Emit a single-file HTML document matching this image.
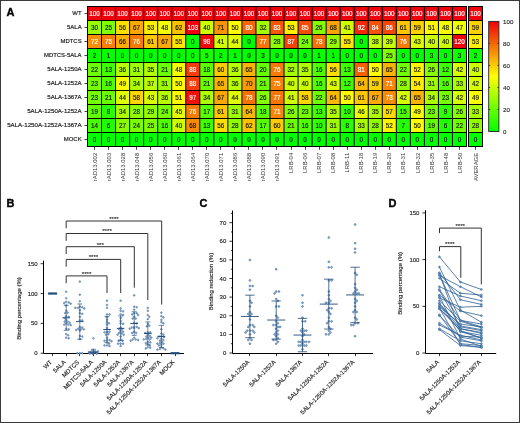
<!DOCTYPE html>
<html><head><meta charset="utf-8"><style>html,body{margin:0;padding:0;background:#fff;}svg{display:block;will-change:transform;}</style></head><body>
<svg width="520" height="423" viewBox="0 0 520 423">
<rect x="0" y="0" width="520" height="423" fill="#fff"/>
<rect x="87.50" y="6.50" width="14.04" height="14.00" fill="rgb(240,0,10)"/>
<rect x="101.54" y="6.50" width="14.04" height="14.00" fill="rgb(240,0,10)"/>
<rect x="115.57" y="6.50" width="14.04" height="14.00" fill="rgb(240,0,10)"/>
<rect x="129.61" y="6.50" width="14.04" height="14.00" fill="rgb(240,0,10)"/>
<rect x="143.65" y="6.50" width="14.04" height="14.00" fill="rgb(240,0,10)"/>
<rect x="157.69" y="6.50" width="14.04" height="14.00" fill="rgb(240,0,10)"/>
<rect x="171.72" y="6.50" width="14.04" height="14.00" fill="rgb(240,0,10)"/>
<rect x="185.76" y="6.50" width="14.04" height="14.00" fill="rgb(240,0,10)"/>
<rect x="199.80" y="6.50" width="14.04" height="14.00" fill="rgb(240,0,10)"/>
<rect x="213.83" y="6.50" width="14.04" height="14.00" fill="rgb(240,0,10)"/>
<rect x="227.87" y="6.50" width="14.04" height="14.00" fill="rgb(240,0,10)"/>
<rect x="241.91" y="6.50" width="14.04" height="14.00" fill="rgb(240,0,10)"/>
<rect x="255.94" y="6.50" width="14.04" height="14.00" fill="rgb(240,0,10)"/>
<rect x="269.98" y="6.50" width="14.04" height="14.00" fill="rgb(240,0,10)"/>
<rect x="284.02" y="6.50" width="14.04" height="14.00" fill="rgb(240,0,10)"/>
<rect x="298.06" y="6.50" width="14.04" height="14.00" fill="rgb(240,0,10)"/>
<rect x="312.09" y="6.50" width="14.04" height="14.00" fill="rgb(240,0,10)"/>
<rect x="326.13" y="6.50" width="14.04" height="14.00" fill="rgb(240,0,10)"/>
<rect x="340.17" y="6.50" width="14.04" height="14.00" fill="rgb(240,0,10)"/>
<rect x="354.20" y="6.50" width="14.04" height="14.00" fill="rgb(240,0,10)"/>
<rect x="368.24" y="6.50" width="14.04" height="14.00" fill="rgb(240,0,10)"/>
<rect x="382.28" y="6.50" width="14.04" height="14.00" fill="rgb(240,0,10)"/>
<rect x="396.31" y="6.50" width="14.04" height="14.00" fill="rgb(240,0,10)"/>
<rect x="410.35" y="6.50" width="14.04" height="14.00" fill="rgb(240,0,10)"/>
<rect x="424.39" y="6.50" width="14.04" height="14.00" fill="rgb(240,0,10)"/>
<rect x="438.43" y="6.50" width="14.04" height="14.00" fill="rgb(240,0,10)"/>
<rect x="452.46" y="6.50" width="14.04" height="14.00" fill="rgb(240,0,10)"/>
<rect x="468.50" y="6.50" width="14.00" height="14.00" fill="rgb(240,0,10)"/>
<rect x="87.50" y="20.50" width="14.04" height="14.00" fill="rgb(153,255,0)"/>
<rect x="101.54" y="20.50" width="14.04" height="14.00" fill="rgb(128,255,0)"/>
<rect x="115.57" y="20.50" width="14.04" height="14.00" fill="rgb(253,224,1)"/>
<rect x="129.61" y="20.50" width="14.04" height="14.00" fill="rgb(250,168,3)"/>
<rect x="143.65" y="20.50" width="14.04" height="14.00" fill="rgb(254,240,1)"/>
<rect x="157.69" y="20.50" width="14.04" height="14.00" fill="rgb(245,255,0)"/>
<rect x="171.72" y="20.50" width="14.04" height="14.00" fill="rgb(251,194,2)"/>
<rect x="185.76" y="20.50" width="14.04" height="14.00" fill="rgb(240,0,10)"/>
<rect x="199.80" y="20.50" width="14.04" height="14.00" fill="rgb(204,255,0)"/>
<rect x="213.83" y="20.50" width="14.04" height="14.00" fill="rgb(249,148,4)"/>
<rect x="227.87" y="20.50" width="14.04" height="14.00" fill="rgb(255,255,0)"/>
<rect x="241.91" y="20.50" width="14.04" height="14.00" fill="rgb(246,102,6)"/>
<rect x="255.94" y="20.50" width="14.04" height="14.00" fill="rgb(163,255,0)"/>
<rect x="269.98" y="20.50" width="14.04" height="14.00" fill="rgb(245,87,7)"/>
<rect x="284.02" y="20.50" width="14.04" height="14.00" fill="rgb(254,240,1)"/>
<rect x="298.06" y="20.50" width="14.04" height="14.00" fill="rgb(244,76,7)"/>
<rect x="312.09" y="20.50" width="14.04" height="14.00" fill="rgb(133,255,0)"/>
<rect x="326.13" y="20.50" width="14.04" height="14.00" fill="rgb(250,163,4)"/>
<rect x="340.17" y="20.50" width="14.04" height="14.00" fill="rgb(209,255,0)"/>
<rect x="354.20" y="20.50" width="14.04" height="14.00" fill="rgb(242,41,8)"/>
<rect x="368.24" y="20.50" width="14.04" height="14.00" fill="rgb(245,82,7)"/>
<rect x="382.28" y="20.50" width="14.04" height="14.00" fill="rgb(244,71,7)"/>
<rect x="396.31" y="20.50" width="14.04" height="14.00" fill="rgb(252,199,2)"/>
<rect x="410.35" y="20.50" width="14.04" height="14.00" fill="rgb(252,209,2)"/>
<rect x="424.39" y="20.50" width="14.04" height="14.00" fill="rgb(255,250,0)"/>
<rect x="438.43" y="20.50" width="14.04" height="14.00" fill="rgb(245,255,0)"/>
<rect x="452.46" y="20.50" width="14.04" height="14.00" fill="rgb(240,255,0)"/>
<rect x="468.50" y="20.50" width="14.00" height="14.00" fill="rgb(252,209,2)"/>
<rect x="87.50" y="34.50" width="14.04" height="14.00" fill="rgb(248,143,4)"/>
<rect x="101.54" y="34.50" width="14.04" height="14.00" fill="rgb(248,128,5)"/>
<rect x="115.57" y="34.50" width="14.04" height="14.00" fill="rgb(250,173,3)"/>
<rect x="129.61" y="34.50" width="14.04" height="14.00" fill="rgb(247,122,5)"/>
<rect x="143.65" y="34.50" width="14.04" height="14.00" fill="rgb(252,199,2)"/>
<rect x="157.69" y="34.50" width="14.04" height="14.00" fill="rgb(250,168,3)"/>
<rect x="171.72" y="34.50" width="14.04" height="14.00" fill="rgb(254,230,1)"/>
<rect x="185.76" y="34.50" width="14.04" height="14.00" fill="rgb(0,255,0)"/>
<rect x="199.80" y="34.50" width="14.04" height="14.00" fill="rgb(241,10,10)"/>
<rect x="213.83" y="34.50" width="14.04" height="14.00" fill="rgb(209,255,0)"/>
<rect x="227.87" y="34.50" width="14.04" height="14.00" fill="rgb(224,255,0)"/>
<rect x="241.91" y="34.50" width="14.04" height="14.00" fill="rgb(0,255,0)"/>
<rect x="255.94" y="34.50" width="14.04" height="14.00" fill="rgb(247,117,5)"/>
<rect x="269.98" y="34.50" width="14.04" height="14.00" fill="rgb(143,255,0)"/>
<rect x="284.02" y="34.50" width="14.04" height="14.00" fill="rgb(244,66,7)"/>
<rect x="298.06" y="34.50" width="14.04" height="14.00" fill="rgb(122,255,0)"/>
<rect x="312.09" y="34.50" width="14.04" height="14.00" fill="rgb(247,112,6)"/>
<rect x="326.13" y="34.50" width="14.04" height="14.00" fill="rgb(148,255,0)"/>
<rect x="340.17" y="34.50" width="14.04" height="14.00" fill="rgb(254,230,1)"/>
<rect x="354.20" y="34.50" width="14.04" height="14.00" fill="rgb(0,255,0)"/>
<rect x="368.24" y="34.50" width="14.04" height="14.00" fill="rgb(194,255,0)"/>
<rect x="382.28" y="34.50" width="14.04" height="14.00" fill="rgb(199,255,0)"/>
<rect x="396.31" y="34.50" width="14.04" height="14.00" fill="rgb(247,122,5)"/>
<rect x="410.35" y="34.50" width="14.04" height="14.00" fill="rgb(219,255,0)"/>
<rect x="424.39" y="34.50" width="14.04" height="14.00" fill="rgb(204,255,0)"/>
<rect x="438.43" y="34.50" width="14.04" height="14.00" fill="rgb(204,255,0)"/>
<rect x="452.46" y="34.50" width="14.04" height="14.00" fill="rgb(240,0,10)"/>
<rect x="468.50" y="34.50" width="14.00" height="14.00" fill="rgb(254,240,1)"/>
<rect x="87.50" y="48.50" width="14.04" height="14.00" fill="rgb(10,255,0)"/>
<rect x="101.54" y="48.50" width="14.04" height="14.00" fill="rgb(5,255,0)"/>
<rect x="115.57" y="48.50" width="14.04" height="14.00" fill="rgb(0,255,0)"/>
<rect x="129.61" y="48.50" width="14.04" height="14.00" fill="rgb(0,255,0)"/>
<rect x="143.65" y="48.50" width="14.04" height="14.00" fill="rgb(0,255,0)"/>
<rect x="157.69" y="48.50" width="14.04" height="14.00" fill="rgb(0,255,0)"/>
<rect x="171.72" y="48.50" width="14.04" height="14.00" fill="rgb(0,255,0)"/>
<rect x="185.76" y="48.50" width="14.04" height="14.00" fill="rgb(0,255,0)"/>
<rect x="199.80" y="48.50" width="14.04" height="14.00" fill="rgb(26,255,0)"/>
<rect x="213.83" y="48.50" width="14.04" height="14.00" fill="rgb(10,255,0)"/>
<rect x="227.87" y="48.50" width="14.04" height="14.00" fill="rgb(5,255,0)"/>
<rect x="241.91" y="48.50" width="14.04" height="14.00" fill="rgb(0,255,0)"/>
<rect x="255.94" y="48.50" width="14.04" height="14.00" fill="rgb(15,255,0)"/>
<rect x="269.98" y="48.50" width="14.04" height="14.00" fill="rgb(0,255,0)"/>
<rect x="284.02" y="48.50" width="14.04" height="14.00" fill="rgb(0,255,0)"/>
<rect x="298.06" y="48.50" width="14.04" height="14.00" fill="rgb(0,255,0)"/>
<rect x="312.09" y="48.50" width="14.04" height="14.00" fill="rgb(5,255,0)"/>
<rect x="326.13" y="48.50" width="14.04" height="14.00" fill="rgb(5,255,0)"/>
<rect x="340.17" y="48.50" width="14.04" height="14.00" fill="rgb(0,255,0)"/>
<rect x="354.20" y="48.50" width="14.04" height="14.00" fill="rgb(0,255,0)"/>
<rect x="368.24" y="48.50" width="14.04" height="14.00" fill="rgb(0,255,0)"/>
<rect x="382.28" y="48.50" width="14.04" height="14.00" fill="rgb(128,255,0)"/>
<rect x="396.31" y="48.50" width="14.04" height="14.00" fill="rgb(0,255,0)"/>
<rect x="410.35" y="48.50" width="14.04" height="14.00" fill="rgb(0,255,0)"/>
<rect x="424.39" y="48.50" width="14.04" height="14.00" fill="rgb(15,255,0)"/>
<rect x="438.43" y="48.50" width="14.04" height="14.00" fill="rgb(0,255,0)"/>
<rect x="452.46" y="48.50" width="14.04" height="14.00" fill="rgb(15,255,0)"/>
<rect x="468.50" y="48.50" width="14.00" height="14.00" fill="rgb(10,255,0)"/>
<rect x="87.50" y="62.50" width="14.04" height="14.00" fill="rgb(112,255,0)"/>
<rect x="101.54" y="62.50" width="14.04" height="14.00" fill="rgb(66,255,0)"/>
<rect x="115.57" y="62.50" width="14.04" height="14.00" fill="rgb(184,255,0)"/>
<rect x="129.61" y="62.50" width="14.04" height="14.00" fill="rgb(158,255,0)"/>
<rect x="143.65" y="62.50" width="14.04" height="14.00" fill="rgb(178,255,0)"/>
<rect x="157.69" y="62.50" width="14.04" height="14.00" fill="rgb(107,255,0)"/>
<rect x="171.72" y="62.50" width="14.04" height="14.00" fill="rgb(245,255,0)"/>
<rect x="185.76" y="62.50" width="14.04" height="14.00" fill="rgb(244,61,8)"/>
<rect x="199.80" y="62.50" width="14.04" height="14.00" fill="rgb(92,255,0)"/>
<rect x="213.83" y="62.50" width="14.04" height="14.00" fill="rgb(252,204,2)"/>
<rect x="227.87" y="62.50" width="14.04" height="14.00" fill="rgb(184,255,0)"/>
<rect x="241.91" y="62.50" width="14.04" height="14.00" fill="rgb(250,178,3)"/>
<rect x="255.94" y="62.50" width="14.04" height="14.00" fill="rgb(102,255,0)"/>
<rect x="269.98" y="62.50" width="14.04" height="14.00" fill="rgb(247,122,5)"/>
<rect x="284.02" y="62.50" width="14.04" height="14.00" fill="rgb(163,255,0)"/>
<rect x="298.06" y="62.50" width="14.04" height="14.00" fill="rgb(178,255,0)"/>
<rect x="312.09" y="62.50" width="14.04" height="14.00" fill="rgb(82,255,0)"/>
<rect x="326.13" y="62.50" width="14.04" height="14.00" fill="rgb(253,224,1)"/>
<rect x="340.17" y="62.50" width="14.04" height="14.00" fill="rgb(66,255,0)"/>
<rect x="354.20" y="62.50" width="14.04" height="14.00" fill="rgb(246,97,6)"/>
<rect x="368.24" y="62.50" width="14.04" height="14.00" fill="rgb(255,255,0)"/>
<rect x="382.28" y="62.50" width="14.04" height="14.00" fill="rgb(250,178,3)"/>
<rect x="396.31" y="62.50" width="14.04" height="14.00" fill="rgb(112,255,0)"/>
<rect x="410.35" y="62.50" width="14.04" height="14.00" fill="rgb(254,245,0)"/>
<rect x="424.39" y="62.50" width="14.04" height="14.00" fill="rgb(133,255,0)"/>
<rect x="438.43" y="62.50" width="14.04" height="14.00" fill="rgb(61,255,0)"/>
<rect x="452.46" y="62.50" width="14.04" height="14.00" fill="rgb(214,255,0)"/>
<rect x="468.50" y="62.50" width="14.00" height="14.00" fill="rgb(204,255,0)"/>
<rect x="87.50" y="76.50" width="14.04" height="14.00" fill="rgb(117,255,0)"/>
<rect x="101.54" y="76.50" width="14.04" height="14.00" fill="rgb(82,255,0)"/>
<rect x="115.57" y="76.50" width="14.04" height="14.00" fill="rgb(250,255,0)"/>
<rect x="129.61" y="76.50" width="14.04" height="14.00" fill="rgb(173,255,0)"/>
<rect x="143.65" y="76.50" width="14.04" height="14.00" fill="rgb(189,255,0)"/>
<rect x="157.69" y="76.50" width="14.04" height="14.00" fill="rgb(158,255,0)"/>
<rect x="171.72" y="76.50" width="14.04" height="14.00" fill="rgb(255,255,0)"/>
<rect x="185.76" y="76.50" width="14.04" height="14.00" fill="rgb(244,61,8)"/>
<rect x="199.80" y="76.50" width="14.04" height="14.00" fill="rgb(107,255,0)"/>
<rect x="213.83" y="76.50" width="14.04" height="14.00" fill="rgb(250,178,3)"/>
<rect x="227.87" y="76.50" width="14.04" height="14.00" fill="rgb(184,255,0)"/>
<rect x="241.91" y="76.50" width="14.04" height="14.00" fill="rgb(249,153,4)"/>
<rect x="255.94" y="76.50" width="14.04" height="14.00" fill="rgb(107,255,0)"/>
<rect x="269.98" y="76.50" width="14.04" height="14.00" fill="rgb(248,128,5)"/>
<rect x="284.02" y="76.50" width="14.04" height="14.00" fill="rgb(204,255,0)"/>
<rect x="298.06" y="76.50" width="14.04" height="14.00" fill="rgb(204,255,0)"/>
<rect x="312.09" y="76.50" width="14.04" height="14.00" fill="rgb(82,255,0)"/>
<rect x="326.13" y="76.50" width="14.04" height="14.00" fill="rgb(219,255,0)"/>
<rect x="340.17" y="76.50" width="14.04" height="14.00" fill="rgb(61,255,0)"/>
<rect x="354.20" y="76.50" width="14.04" height="14.00" fill="rgb(251,184,3)"/>
<rect x="368.24" y="76.50" width="14.04" height="14.00" fill="rgb(252,209,2)"/>
<rect x="382.28" y="76.50" width="14.04" height="14.00" fill="rgb(248,133,5)"/>
<rect x="396.31" y="76.50" width="14.04" height="14.00" fill="rgb(143,255,0)"/>
<rect x="410.35" y="76.50" width="14.04" height="14.00" fill="rgb(254,235,1)"/>
<rect x="424.39" y="76.50" width="14.04" height="14.00" fill="rgb(158,255,0)"/>
<rect x="438.43" y="76.50" width="14.04" height="14.00" fill="rgb(82,255,0)"/>
<rect x="452.46" y="76.50" width="14.04" height="14.00" fill="rgb(168,255,0)"/>
<rect x="468.50" y="76.50" width="14.00" height="14.00" fill="rgb(214,255,0)"/>
<rect x="87.50" y="90.50" width="14.04" height="14.00" fill="rgb(117,255,0)"/>
<rect x="101.54" y="90.50" width="14.04" height="14.00" fill="rgb(107,255,0)"/>
<rect x="115.57" y="90.50" width="14.04" height="14.00" fill="rgb(224,255,0)"/>
<rect x="129.61" y="90.50" width="14.04" height="14.00" fill="rgb(253,214,2)"/>
<rect x="143.65" y="90.50" width="14.04" height="14.00" fill="rgb(219,255,0)"/>
<rect x="157.69" y="90.50" width="14.04" height="14.00" fill="rgb(184,255,0)"/>
<rect x="171.72" y="90.50" width="14.04" height="14.00" fill="rgb(255,250,0)"/>
<rect x="185.76" y="90.50" width="14.04" height="14.00" fill="rgb(241,15,9)"/>
<rect x="199.80" y="90.50" width="14.04" height="14.00" fill="rgb(173,255,0)"/>
<rect x="213.83" y="90.50" width="14.04" height="14.00" fill="rgb(250,168,3)"/>
<rect x="227.87" y="90.50" width="14.04" height="14.00" fill="rgb(224,255,0)"/>
<rect x="241.91" y="90.50" width="14.04" height="14.00" fill="rgb(247,112,6)"/>
<rect x="255.94" y="90.50" width="14.04" height="14.00" fill="rgb(133,255,0)"/>
<rect x="269.98" y="90.50" width="14.04" height="14.00" fill="rgb(247,117,5)"/>
<rect x="284.02" y="90.50" width="14.04" height="14.00" fill="rgb(209,255,0)"/>
<rect x="298.06" y="90.50" width="14.04" height="14.00" fill="rgb(253,214,2)"/>
<rect x="312.09" y="90.50" width="14.04" height="14.00" fill="rgb(112,255,0)"/>
<rect x="326.13" y="90.50" width="14.04" height="14.00" fill="rgb(251,184,3)"/>
<rect x="340.17" y="90.50" width="14.04" height="14.00" fill="rgb(255,255,0)"/>
<rect x="354.20" y="90.50" width="14.04" height="14.00" fill="rgb(252,199,2)"/>
<rect x="368.24" y="90.50" width="14.04" height="14.00" fill="rgb(250,168,3)"/>
<rect x="382.28" y="90.50" width="14.04" height="14.00" fill="rgb(248,138,5)"/>
<rect x="396.31" y="90.50" width="14.04" height="14.00" fill="rgb(214,255,0)"/>
<rect x="410.35" y="90.50" width="14.04" height="14.00" fill="rgb(250,178,3)"/>
<rect x="424.39" y="90.50" width="14.04" height="14.00" fill="rgb(173,255,0)"/>
<rect x="438.43" y="90.50" width="14.04" height="14.00" fill="rgb(117,255,0)"/>
<rect x="452.46" y="90.50" width="14.04" height="14.00" fill="rgb(214,255,0)"/>
<rect x="468.50" y="90.50" width="14.00" height="14.00" fill="rgb(250,255,0)"/>
<rect x="87.50" y="104.50" width="14.04" height="14.00" fill="rgb(97,255,0)"/>
<rect x="101.54" y="104.50" width="14.04" height="14.00" fill="rgb(41,255,0)"/>
<rect x="115.57" y="104.50" width="14.04" height="14.00" fill="rgb(173,255,0)"/>
<rect x="129.61" y="104.50" width="14.04" height="14.00" fill="rgb(143,255,0)"/>
<rect x="143.65" y="104.50" width="14.04" height="14.00" fill="rgb(148,255,0)"/>
<rect x="157.69" y="104.50" width="14.04" height="14.00" fill="rgb(122,255,0)"/>
<rect x="171.72" y="104.50" width="14.04" height="14.00" fill="rgb(230,255,0)"/>
<rect x="185.76" y="104.50" width="14.04" height="14.00" fill="rgb(247,122,5)"/>
<rect x="199.80" y="104.50" width="14.04" height="14.00" fill="rgb(87,255,0)"/>
<rect x="213.83" y="104.50" width="14.04" height="14.00" fill="rgb(252,199,2)"/>
<rect x="227.87" y="104.50" width="14.04" height="14.00" fill="rgb(158,255,0)"/>
<rect x="241.91" y="104.50" width="14.04" height="14.00" fill="rgb(251,184,3)"/>
<rect x="255.94" y="104.50" width="14.04" height="14.00" fill="rgb(92,255,0)"/>
<rect x="269.98" y="104.50" width="14.04" height="14.00" fill="rgb(248,133,5)"/>
<rect x="284.02" y="104.50" width="14.04" height="14.00" fill="rgb(133,255,0)"/>
<rect x="298.06" y="104.50" width="14.04" height="14.00" fill="rgb(117,255,0)"/>
<rect x="312.09" y="104.50" width="14.04" height="14.00" fill="rgb(66,255,0)"/>
<rect x="326.13" y="104.50" width="14.04" height="14.00" fill="rgb(178,255,0)"/>
<rect x="340.17" y="104.50" width="14.04" height="14.00" fill="rgb(51,255,0)"/>
<rect x="354.20" y="104.50" width="14.04" height="14.00" fill="rgb(235,255,0)"/>
<rect x="368.24" y="104.50" width="14.04" height="14.00" fill="rgb(178,255,0)"/>
<rect x="382.28" y="104.50" width="14.04" height="14.00" fill="rgb(253,219,1)"/>
<rect x="396.31" y="104.50" width="14.04" height="14.00" fill="rgb(76,255,0)"/>
<rect x="410.35" y="104.50" width="14.04" height="14.00" fill="rgb(250,255,0)"/>
<rect x="424.39" y="104.50" width="14.04" height="14.00" fill="rgb(117,255,0)"/>
<rect x="438.43" y="104.50" width="14.04" height="14.00" fill="rgb(46,255,0)"/>
<rect x="452.46" y="104.50" width="14.04" height="14.00" fill="rgb(133,255,0)"/>
<rect x="468.50" y="104.50" width="14.00" height="14.00" fill="rgb(168,255,0)"/>
<rect x="87.50" y="118.50" width="14.04" height="14.00" fill="rgb(71,255,0)"/>
<rect x="101.54" y="118.50" width="14.04" height="14.00" fill="rgb(31,255,0)"/>
<rect x="115.57" y="118.50" width="14.04" height="14.00" fill="rgb(138,255,0)"/>
<rect x="129.61" y="118.50" width="14.04" height="14.00" fill="rgb(122,255,0)"/>
<rect x="143.65" y="118.50" width="14.04" height="14.00" fill="rgb(128,255,0)"/>
<rect x="157.69" y="118.50" width="14.04" height="14.00" fill="rgb(82,255,0)"/>
<rect x="171.72" y="118.50" width="14.04" height="14.00" fill="rgb(204,255,0)"/>
<rect x="185.76" y="118.50" width="14.04" height="14.00" fill="rgb(248,138,5)"/>
<rect x="199.80" y="118.50" width="14.04" height="14.00" fill="rgb(66,255,0)"/>
<rect x="213.83" y="118.50" width="14.04" height="14.00" fill="rgb(253,224,1)"/>
<rect x="227.87" y="118.50" width="14.04" height="14.00" fill="rgb(143,255,0)"/>
<rect x="241.91" y="118.50" width="14.04" height="14.00" fill="rgb(251,194,2)"/>
<rect x="255.94" y="118.50" width="14.04" height="14.00" fill="rgb(87,255,0)"/>
<rect x="269.98" y="118.50" width="14.04" height="14.00" fill="rgb(252,204,2)"/>
<rect x="284.02" y="118.50" width="14.04" height="14.00" fill="rgb(107,255,0)"/>
<rect x="298.06" y="118.50" width="14.04" height="14.00" fill="rgb(82,255,0)"/>
<rect x="312.09" y="118.50" width="14.04" height="14.00" fill="rgb(51,255,0)"/>
<rect x="326.13" y="118.50" width="14.04" height="14.00" fill="rgb(158,255,0)"/>
<rect x="340.17" y="118.50" width="14.04" height="14.00" fill="rgb(41,255,0)"/>
<rect x="354.20" y="118.50" width="14.04" height="14.00" fill="rgb(168,255,0)"/>
<rect x="368.24" y="118.50" width="14.04" height="14.00" fill="rgb(143,255,0)"/>
<rect x="382.28" y="118.50" width="14.04" height="14.00" fill="rgb(254,245,0)"/>
<rect x="396.31" y="118.50" width="14.04" height="14.00" fill="rgb(36,255,0)"/>
<rect x="410.35" y="118.50" width="14.04" height="14.00" fill="rgb(255,255,0)"/>
<rect x="424.39" y="118.50" width="14.04" height="14.00" fill="rgb(97,255,0)"/>
<rect x="438.43" y="118.50" width="14.04" height="14.00" fill="rgb(31,255,0)"/>
<rect x="452.46" y="118.50" width="14.04" height="14.00" fill="rgb(112,255,0)"/>
<rect x="468.50" y="118.50" width="14.00" height="14.00" fill="rgb(143,255,0)"/>
<rect x="87.50" y="132.50" width="14.04" height="14.00" fill="rgb(0,255,0)"/>
<rect x="101.54" y="132.50" width="14.04" height="14.00" fill="rgb(0,255,0)"/>
<rect x="115.57" y="132.50" width="14.04" height="14.00" fill="rgb(0,255,0)"/>
<rect x="129.61" y="132.50" width="14.04" height="14.00" fill="rgb(0,255,0)"/>
<rect x="143.65" y="132.50" width="14.04" height="14.00" fill="rgb(0,255,0)"/>
<rect x="157.69" y="132.50" width="14.04" height="14.00" fill="rgb(0,255,0)"/>
<rect x="171.72" y="132.50" width="14.04" height="14.00" fill="rgb(0,255,0)"/>
<rect x="185.76" y="132.50" width="14.04" height="14.00" fill="rgb(0,255,0)"/>
<rect x="199.80" y="132.50" width="14.04" height="14.00" fill="rgb(0,255,0)"/>
<rect x="213.83" y="132.50" width="14.04" height="14.00" fill="rgb(0,255,0)"/>
<rect x="227.87" y="132.50" width="14.04" height="14.00" fill="rgb(0,255,0)"/>
<rect x="241.91" y="132.50" width="14.04" height="14.00" fill="rgb(0,255,0)"/>
<rect x="255.94" y="132.50" width="14.04" height="14.00" fill="rgb(0,255,0)"/>
<rect x="269.98" y="132.50" width="14.04" height="14.00" fill="rgb(0,255,0)"/>
<rect x="284.02" y="132.50" width="14.04" height="14.00" fill="rgb(0,255,0)"/>
<rect x="298.06" y="132.50" width="14.04" height="14.00" fill="rgb(0,255,0)"/>
<rect x="312.09" y="132.50" width="14.04" height="14.00" fill="rgb(0,255,0)"/>
<rect x="326.13" y="132.50" width="14.04" height="14.00" fill="rgb(0,255,0)"/>
<rect x="340.17" y="132.50" width="14.04" height="14.00" fill="rgb(0,255,0)"/>
<rect x="354.20" y="132.50" width="14.04" height="14.00" fill="rgb(0,255,0)"/>
<rect x="368.24" y="132.50" width="14.04" height="14.00" fill="rgb(0,255,0)"/>
<rect x="382.28" y="132.50" width="14.04" height="14.00" fill="rgb(0,255,0)"/>
<rect x="396.31" y="132.50" width="14.04" height="14.00" fill="rgb(0,255,0)"/>
<rect x="410.35" y="132.50" width="14.04" height="14.00" fill="rgb(0,255,0)"/>
<rect x="424.39" y="132.50" width="14.04" height="14.00" fill="rgb(0,255,0)"/>
<rect x="438.43" y="132.50" width="14.04" height="14.00" fill="rgb(0,255,0)"/>
<rect x="452.46" y="132.50" width="14.04" height="14.00" fill="rgb(0,255,0)"/>
<rect x="468.50" y="132.50" width="14.00" height="14.00" fill="rgb(0,255,0)"/>
<path d="M87.00 6.50H467.00M468.00 6.50H483.00M87.00 20.50H467.00M468.00 20.50H483.00M87.00 34.50H467.00M468.00 34.50H483.00M87.00 48.50H467.00M468.00 48.50H483.00M87.00 62.50H467.00M468.00 62.50H483.00M87.00 76.50H467.00M468.00 76.50H483.00M87.00 90.50H467.00M468.00 90.50H483.00M87.00 104.50H467.00M468.00 104.50H483.00M87.00 118.50H467.00M468.00 118.50H483.00M87.00 132.50H467.00M468.00 132.50H483.00M87.00 146.50H467.00M468.00 146.50H483.00M87.50 6.50V146.50M101.54 6.50V146.50M115.57 6.50V146.50M129.61 6.50V146.50M143.65 6.50V146.50M157.69 6.50V146.50M171.72 6.50V146.50M185.76 6.50V146.50M199.80 6.50V146.50M213.83 6.50V146.50M227.87 6.50V146.50M241.91 6.50V146.50M255.94 6.50V146.50M269.98 6.50V146.50M284.02 6.50V146.50M298.06 6.50V146.50M312.09 6.50V146.50M326.13 6.50V146.50M340.17 6.50V146.50M354.20 6.50V146.50M368.24 6.50V146.50M382.28 6.50V146.50M396.31 6.50V146.50M410.35 6.50V146.50M424.39 6.50V146.50M438.43 6.50V146.50M452.46 6.50V146.50M466.50 6.50V146.50M468.50 6.50V146.50M482.50 6.50V146.50" stroke="#000" stroke-width="1" fill="none"/>
<g font-family="Liberation Sans, sans-serif" font-size="6.3" text-anchor="middle">
<text x="94.52" y="15.77" fill="#fff" stroke="#fff" stroke-width="0.15">100</text>
<text x="108.56" y="15.77" fill="#fff" stroke="#fff" stroke-width="0.15">100</text>
<text x="122.59" y="15.77" fill="#fff" stroke="#fff" stroke-width="0.15">100</text>
<text x="136.63" y="15.77" fill="#fff" stroke="#fff" stroke-width="0.15">100</text>
<text x="150.67" y="15.77" fill="#fff" stroke="#fff" stroke-width="0.15">100</text>
<text x="164.70" y="15.77" fill="#fff" stroke="#fff" stroke-width="0.15">100</text>
<text x="178.74" y="15.77" fill="#fff" stroke="#fff" stroke-width="0.15">100</text>
<text x="192.78" y="15.77" fill="#fff" stroke="#fff" stroke-width="0.15">100</text>
<text x="206.81" y="15.77" fill="#fff" stroke="#fff" stroke-width="0.15">100</text>
<text x="220.85" y="15.77" fill="#fff" stroke="#fff" stroke-width="0.15">100</text>
<text x="234.89" y="15.77" fill="#fff" stroke="#fff" stroke-width="0.15">100</text>
<text x="248.93" y="15.77" fill="#fff" stroke="#fff" stroke-width="0.15">100</text>
<text x="262.96" y="15.77" fill="#fff" stroke="#fff" stroke-width="0.15">100</text>
<text x="277.00" y="15.77" fill="#fff" stroke="#fff" stroke-width="0.15">100</text>
<text x="291.04" y="15.77" fill="#fff" stroke="#fff" stroke-width="0.15">100</text>
<text x="305.07" y="15.77" fill="#fff" stroke="#fff" stroke-width="0.15">100</text>
<text x="319.11" y="15.77" fill="#fff" stroke="#fff" stroke-width="0.15">100</text>
<text x="333.15" y="15.77" fill="#fff" stroke="#fff" stroke-width="0.15">100</text>
<text x="347.18" y="15.77" fill="#fff" stroke="#fff" stroke-width="0.15">100</text>
<text x="361.22" y="15.77" fill="#fff" stroke="#fff" stroke-width="0.15">100</text>
<text x="375.26" y="15.77" fill="#fff" stroke="#fff" stroke-width="0.15">100</text>
<text x="389.30" y="15.77" fill="#fff" stroke="#fff" stroke-width="0.15">100</text>
<text x="403.33" y="15.77" fill="#fff" stroke="#fff" stroke-width="0.15">100</text>
<text x="417.37" y="15.77" fill="#fff" stroke="#fff" stroke-width="0.15">100</text>
<text x="431.41" y="15.77" fill="#fff" stroke="#fff" stroke-width="0.15">100</text>
<text x="445.44" y="15.77" fill="#fff" stroke="#fff" stroke-width="0.15">100</text>
<text x="459.48" y="15.77" fill="#fff" stroke="#fff" stroke-width="0.15">100</text>
<text x="475.52" y="15.77" fill="#fff" stroke="#fff" stroke-width="0.15">100</text>
<text x="94.52" y="29.77" fill="#111" stroke="#111" stroke-width="0.15">30</text>
<text x="108.56" y="29.77" fill="#111" stroke="#111" stroke-width="0.15">25</text>
<text x="122.59" y="29.77" fill="#111" stroke="#111" stroke-width="0.15">56</text>
<text x="136.63" y="29.77" fill="#111" stroke="#111" stroke-width="0.15">67</text>
<text x="150.67" y="29.77" fill="#111" stroke="#111" stroke-width="0.15">53</text>
<text x="164.70" y="29.77" fill="#111" stroke="#111" stroke-width="0.15">48</text>
<text x="178.74" y="29.77" fill="#111" stroke="#111" stroke-width="0.15">62</text>
<text x="192.78" y="29.77" fill="#fff" stroke="#fff" stroke-width="0.15">103</text>
<text x="206.81" y="29.77" fill="#111" stroke="#111" stroke-width="0.15">40</text>
<text x="220.85" y="29.77" fill="#111" stroke="#111" stroke-width="0.15">71</text>
<text x="234.89" y="29.77" fill="#111" stroke="#111" stroke-width="0.15">50</text>
<text x="248.93" y="29.77" fill="#fff" stroke="#fff" stroke-width="0.15">80</text>
<text x="262.96" y="29.77" fill="#111" stroke="#111" stroke-width="0.15">32</text>
<text x="277.00" y="29.77" fill="#fff" stroke="#fff" stroke-width="0.15">83</text>
<text x="291.04" y="29.77" fill="#111" stroke="#111" stroke-width="0.15">53</text>
<text x="305.07" y="29.77" fill="#fff" stroke="#fff" stroke-width="0.15">85</text>
<text x="319.11" y="29.77" fill="#111" stroke="#111" stroke-width="0.15">26</text>
<text x="333.15" y="29.77" fill="#111" stroke="#111" stroke-width="0.15">68</text>
<text x="347.18" y="29.77" fill="#111" stroke="#111" stroke-width="0.15">41</text>
<text x="361.22" y="29.77" fill="#fff" stroke="#fff" stroke-width="0.15">92</text>
<text x="375.26" y="29.77" fill="#fff" stroke="#fff" stroke-width="0.15">84</text>
<text x="389.30" y="29.77" fill="#fff" stroke="#fff" stroke-width="0.15">86</text>
<text x="403.33" y="29.77" fill="#111" stroke="#111" stroke-width="0.15">61</text>
<text x="417.37" y="29.77" fill="#111" stroke="#111" stroke-width="0.15">59</text>
<text x="431.41" y="29.77" fill="#111" stroke="#111" stroke-width="0.15">51</text>
<text x="445.44" y="29.77" fill="#111" stroke="#111" stroke-width="0.15">48</text>
<text x="459.48" y="29.77" fill="#111" stroke="#111" stroke-width="0.15">47</text>
<text x="475.52" y="29.77" fill="#111" stroke="#111" stroke-width="0.15">59</text>
<text x="94.52" y="43.77" fill="#fff" stroke="#fff" stroke-width="0.15">72</text>
<text x="108.56" y="43.77" fill="#fff" stroke="#fff" stroke-width="0.15">75</text>
<text x="122.59" y="43.77" fill="#111" stroke="#111" stroke-width="0.15">66</text>
<text x="136.63" y="43.77" fill="#fff" stroke="#fff" stroke-width="0.15">76</text>
<text x="150.67" y="43.77" fill="#111" stroke="#111" stroke-width="0.15">61</text>
<text x="164.70" y="43.77" fill="#111" stroke="#111" stroke-width="0.15">67</text>
<text x="178.74" y="43.77" fill="#111" stroke="#111" stroke-width="0.15">55</text>
<text x="192.78" y="43.77" fill="#111" stroke="#111" stroke-width="0.15">0</text>
<text x="206.81" y="43.77" fill="#fff" stroke="#fff" stroke-width="0.15">98</text>
<text x="220.85" y="43.77" fill="#111" stroke="#111" stroke-width="0.15">41</text>
<text x="234.89" y="43.77" fill="#111" stroke="#111" stroke-width="0.15">44</text>
<text x="248.93" y="43.77" fill="#111" stroke="#111" stroke-width="0.15">0</text>
<text x="262.96" y="43.77" fill="#fff" stroke="#fff" stroke-width="0.15">77</text>
<text x="277.00" y="43.77" fill="#111" stroke="#111" stroke-width="0.15">28</text>
<text x="291.04" y="43.77" fill="#fff" stroke="#fff" stroke-width="0.15">87</text>
<text x="305.07" y="43.77" fill="#111" stroke="#111" stroke-width="0.15">24</text>
<text x="319.11" y="43.77" fill="#fff" stroke="#fff" stroke-width="0.15">78</text>
<text x="333.15" y="43.77" fill="#111" stroke="#111" stroke-width="0.15">29</text>
<text x="347.18" y="43.77" fill="#111" stroke="#111" stroke-width="0.15">55</text>
<text x="361.22" y="43.77" fill="#111" stroke="#111" stroke-width="0.15">0</text>
<text x="375.26" y="43.77" fill="#111" stroke="#111" stroke-width="0.15">38</text>
<text x="389.30" y="43.77" fill="#111" stroke="#111" stroke-width="0.15">39</text>
<text x="403.33" y="43.77" fill="#fff" stroke="#fff" stroke-width="0.15">76</text>
<text x="417.37" y="43.77" fill="#111" stroke="#111" stroke-width="0.15">43</text>
<text x="431.41" y="43.77" fill="#111" stroke="#111" stroke-width="0.15">40</text>
<text x="445.44" y="43.77" fill="#111" stroke="#111" stroke-width="0.15">40</text>
<text x="459.48" y="43.77" fill="#fff" stroke="#fff" stroke-width="0.15">120</text>
<text x="475.52" y="43.77" fill="#111" stroke="#111" stroke-width="0.15">53</text>
<text x="94.52" y="57.77" fill="#111" stroke="#111" stroke-width="0.15">2</text>
<text x="108.56" y="57.77" fill="#111" stroke="#111" stroke-width="0.15">1</text>
<text x="122.59" y="57.77" fill="#111" stroke="#111" stroke-width="0.15">0</text>
<text x="136.63" y="57.77" fill="#111" stroke="#111" stroke-width="0.15">0</text>
<text x="150.67" y="57.77" fill="#111" stroke="#111" stroke-width="0.15">0</text>
<text x="164.70" y="57.77" fill="#111" stroke="#111" stroke-width="0.15">0</text>
<text x="178.74" y="57.77" fill="#111" stroke="#111" stroke-width="0.15">0</text>
<text x="192.78" y="57.77" fill="#111" stroke="#111" stroke-width="0.15">0</text>
<text x="206.81" y="57.77" fill="#111" stroke="#111" stroke-width="0.15">5</text>
<text x="220.85" y="57.77" fill="#111" stroke="#111" stroke-width="0.15">2</text>
<text x="234.89" y="57.77" fill="#111" stroke="#111" stroke-width="0.15">1</text>
<text x="248.93" y="57.77" fill="#111" stroke="#111" stroke-width="0.15">0</text>
<text x="262.96" y="57.77" fill="#111" stroke="#111" stroke-width="0.15">3</text>
<text x="277.00" y="57.77" fill="#111" stroke="#111" stroke-width="0.15">0</text>
<text x="291.04" y="57.77" fill="#111" stroke="#111" stroke-width="0.15">0</text>
<text x="305.07" y="57.77" fill="#111" stroke="#111" stroke-width="0.15">0</text>
<text x="319.11" y="57.77" fill="#111" stroke="#111" stroke-width="0.15">1</text>
<text x="333.15" y="57.77" fill="#111" stroke="#111" stroke-width="0.15">1</text>
<text x="347.18" y="57.77" fill="#111" stroke="#111" stroke-width="0.15">0</text>
<text x="361.22" y="57.77" fill="#111" stroke="#111" stroke-width="0.15">0</text>
<text x="375.26" y="57.77" fill="#111" stroke="#111" stroke-width="0.15">0</text>
<text x="389.30" y="57.77" fill="#111" stroke="#111" stroke-width="0.15">25</text>
<text x="403.33" y="57.77" fill="#111" stroke="#111" stroke-width="0.15">0</text>
<text x="417.37" y="57.77" fill="#111" stroke="#111" stroke-width="0.15">0</text>
<text x="431.41" y="57.77" fill="#111" stroke="#111" stroke-width="0.15">3</text>
<text x="445.44" y="57.77" fill="#111" stroke="#111" stroke-width="0.15">0</text>
<text x="459.48" y="57.77" fill="#111" stroke="#111" stroke-width="0.15">3</text>
<text x="475.52" y="57.77" fill="#111" stroke="#111" stroke-width="0.15">2</text>
<text x="94.52" y="71.77" fill="#111" stroke="#111" stroke-width="0.15">22</text>
<text x="108.56" y="71.77" fill="#111" stroke="#111" stroke-width="0.15">13</text>
<text x="122.59" y="71.77" fill="#111" stroke="#111" stroke-width="0.15">36</text>
<text x="136.63" y="71.77" fill="#111" stroke="#111" stroke-width="0.15">31</text>
<text x="150.67" y="71.77" fill="#111" stroke="#111" stroke-width="0.15">35</text>
<text x="164.70" y="71.77" fill="#111" stroke="#111" stroke-width="0.15">21</text>
<text x="178.74" y="71.77" fill="#111" stroke="#111" stroke-width="0.15">48</text>
<text x="192.78" y="71.77" fill="#fff" stroke="#fff" stroke-width="0.15">88</text>
<text x="206.81" y="71.77" fill="#111" stroke="#111" stroke-width="0.15">18</text>
<text x="220.85" y="71.77" fill="#111" stroke="#111" stroke-width="0.15">60</text>
<text x="234.89" y="71.77" fill="#111" stroke="#111" stroke-width="0.15">36</text>
<text x="248.93" y="71.77" fill="#111" stroke="#111" stroke-width="0.15">65</text>
<text x="262.96" y="71.77" fill="#111" stroke="#111" stroke-width="0.15">20</text>
<text x="277.00" y="71.77" fill="#fff" stroke="#fff" stroke-width="0.15">76</text>
<text x="291.04" y="71.77" fill="#111" stroke="#111" stroke-width="0.15">32</text>
<text x="305.07" y="71.77" fill="#111" stroke="#111" stroke-width="0.15">35</text>
<text x="319.11" y="71.77" fill="#111" stroke="#111" stroke-width="0.15">16</text>
<text x="333.15" y="71.77" fill="#111" stroke="#111" stroke-width="0.15">56</text>
<text x="347.18" y="71.77" fill="#111" stroke="#111" stroke-width="0.15">13</text>
<text x="361.22" y="71.77" fill="#fff" stroke="#fff" stroke-width="0.15">81</text>
<text x="375.26" y="71.77" fill="#111" stroke="#111" stroke-width="0.15">50</text>
<text x="389.30" y="71.77" fill="#111" stroke="#111" stroke-width="0.15">65</text>
<text x="403.33" y="71.77" fill="#111" stroke="#111" stroke-width="0.15">22</text>
<text x="417.37" y="71.77" fill="#111" stroke="#111" stroke-width="0.15">52</text>
<text x="431.41" y="71.77" fill="#111" stroke="#111" stroke-width="0.15">26</text>
<text x="445.44" y="71.77" fill="#111" stroke="#111" stroke-width="0.15">12</text>
<text x="459.48" y="71.77" fill="#111" stroke="#111" stroke-width="0.15">42</text>
<text x="475.52" y="71.77" fill="#111" stroke="#111" stroke-width="0.15">40</text>
<text x="94.52" y="85.77" fill="#111" stroke="#111" stroke-width="0.15">23</text>
<text x="108.56" y="85.77" fill="#111" stroke="#111" stroke-width="0.15">16</text>
<text x="122.59" y="85.77" fill="#111" stroke="#111" stroke-width="0.15">49</text>
<text x="136.63" y="85.77" fill="#111" stroke="#111" stroke-width="0.15">34</text>
<text x="150.67" y="85.77" fill="#111" stroke="#111" stroke-width="0.15">37</text>
<text x="164.70" y="85.77" fill="#111" stroke="#111" stroke-width="0.15">31</text>
<text x="178.74" y="85.77" fill="#111" stroke="#111" stroke-width="0.15">50</text>
<text x="192.78" y="85.77" fill="#fff" stroke="#fff" stroke-width="0.15">88</text>
<text x="206.81" y="85.77" fill="#111" stroke="#111" stroke-width="0.15">21</text>
<text x="220.85" y="85.77" fill="#111" stroke="#111" stroke-width="0.15">65</text>
<text x="234.89" y="85.77" fill="#111" stroke="#111" stroke-width="0.15">36</text>
<text x="248.93" y="85.77" fill="#111" stroke="#111" stroke-width="0.15">70</text>
<text x="262.96" y="85.77" fill="#111" stroke="#111" stroke-width="0.15">21</text>
<text x="277.00" y="85.77" fill="#fff" stroke="#fff" stroke-width="0.15">75</text>
<text x="291.04" y="85.77" fill="#111" stroke="#111" stroke-width="0.15">40</text>
<text x="305.07" y="85.77" fill="#111" stroke="#111" stroke-width="0.15">40</text>
<text x="319.11" y="85.77" fill="#111" stroke="#111" stroke-width="0.15">16</text>
<text x="333.15" y="85.77" fill="#111" stroke="#111" stroke-width="0.15">43</text>
<text x="347.18" y="85.77" fill="#111" stroke="#111" stroke-width="0.15">12</text>
<text x="361.22" y="85.77" fill="#111" stroke="#111" stroke-width="0.15">64</text>
<text x="375.26" y="85.77" fill="#111" stroke="#111" stroke-width="0.15">59</text>
<text x="389.30" y="85.77" fill="#fff" stroke="#fff" stroke-width="0.15">71</text>
<text x="403.33" y="85.77" fill="#111" stroke="#111" stroke-width="0.15">28</text>
<text x="417.37" y="85.77" fill="#111" stroke="#111" stroke-width="0.15">54</text>
<text x="431.41" y="85.77" fill="#111" stroke="#111" stroke-width="0.15">31</text>
<text x="445.44" y="85.77" fill="#111" stroke="#111" stroke-width="0.15">16</text>
<text x="459.48" y="85.77" fill="#111" stroke="#111" stroke-width="0.15">33</text>
<text x="475.52" y="85.77" fill="#111" stroke="#111" stroke-width="0.15">42</text>
<text x="94.52" y="99.77" fill="#111" stroke="#111" stroke-width="0.15">23</text>
<text x="108.56" y="99.77" fill="#111" stroke="#111" stroke-width="0.15">21</text>
<text x="122.59" y="99.77" fill="#111" stroke="#111" stroke-width="0.15">44</text>
<text x="136.63" y="99.77" fill="#111" stroke="#111" stroke-width="0.15">58</text>
<text x="150.67" y="99.77" fill="#111" stroke="#111" stroke-width="0.15">43</text>
<text x="164.70" y="99.77" fill="#111" stroke="#111" stroke-width="0.15">36</text>
<text x="178.74" y="99.77" fill="#111" stroke="#111" stroke-width="0.15">51</text>
<text x="192.78" y="99.77" fill="#fff" stroke="#fff" stroke-width="0.15">97</text>
<text x="206.81" y="99.77" fill="#111" stroke="#111" stroke-width="0.15">34</text>
<text x="220.85" y="99.77" fill="#111" stroke="#111" stroke-width="0.15">67</text>
<text x="234.89" y="99.77" fill="#111" stroke="#111" stroke-width="0.15">44</text>
<text x="248.93" y="99.77" fill="#fff" stroke="#fff" stroke-width="0.15">78</text>
<text x="262.96" y="99.77" fill="#111" stroke="#111" stroke-width="0.15">26</text>
<text x="277.00" y="99.77" fill="#fff" stroke="#fff" stroke-width="0.15">77</text>
<text x="291.04" y="99.77" fill="#111" stroke="#111" stroke-width="0.15">41</text>
<text x="305.07" y="99.77" fill="#111" stroke="#111" stroke-width="0.15">58</text>
<text x="319.11" y="99.77" fill="#111" stroke="#111" stroke-width="0.15">22</text>
<text x="333.15" y="99.77" fill="#111" stroke="#111" stroke-width="0.15">64</text>
<text x="347.18" y="99.77" fill="#111" stroke="#111" stroke-width="0.15">50</text>
<text x="361.22" y="99.77" fill="#111" stroke="#111" stroke-width="0.15">61</text>
<text x="375.26" y="99.77" fill="#111" stroke="#111" stroke-width="0.15">67</text>
<text x="389.30" y="99.77" fill="#fff" stroke="#fff" stroke-width="0.15">73</text>
<text x="403.33" y="99.77" fill="#111" stroke="#111" stroke-width="0.15">42</text>
<text x="417.37" y="99.77" fill="#111" stroke="#111" stroke-width="0.15">65</text>
<text x="431.41" y="99.77" fill="#111" stroke="#111" stroke-width="0.15">34</text>
<text x="445.44" y="99.77" fill="#111" stroke="#111" stroke-width="0.15">23</text>
<text x="459.48" y="99.77" fill="#111" stroke="#111" stroke-width="0.15">42</text>
<text x="475.52" y="99.77" fill="#111" stroke="#111" stroke-width="0.15">49</text>
<text x="94.52" y="113.77" fill="#111" stroke="#111" stroke-width="0.15">19</text>
<text x="108.56" y="113.77" fill="#111" stroke="#111" stroke-width="0.15">8</text>
<text x="122.59" y="113.77" fill="#111" stroke="#111" stroke-width="0.15">34</text>
<text x="136.63" y="113.77" fill="#111" stroke="#111" stroke-width="0.15">28</text>
<text x="150.67" y="113.77" fill="#111" stroke="#111" stroke-width="0.15">29</text>
<text x="164.70" y="113.77" fill="#111" stroke="#111" stroke-width="0.15">24</text>
<text x="178.74" y="113.77" fill="#111" stroke="#111" stroke-width="0.15">45</text>
<text x="192.78" y="113.77" fill="#fff" stroke="#fff" stroke-width="0.15">76</text>
<text x="206.81" y="113.77" fill="#111" stroke="#111" stroke-width="0.15">17</text>
<text x="220.85" y="113.77" fill="#111" stroke="#111" stroke-width="0.15">61</text>
<text x="234.89" y="113.77" fill="#111" stroke="#111" stroke-width="0.15">31</text>
<text x="248.93" y="113.77" fill="#111" stroke="#111" stroke-width="0.15">64</text>
<text x="262.96" y="113.77" fill="#111" stroke="#111" stroke-width="0.15">18</text>
<text x="277.00" y="113.77" fill="#fff" stroke="#fff" stroke-width="0.15">71</text>
<text x="291.04" y="113.77" fill="#111" stroke="#111" stroke-width="0.15">26</text>
<text x="305.07" y="113.77" fill="#111" stroke="#111" stroke-width="0.15">23</text>
<text x="319.11" y="113.77" fill="#111" stroke="#111" stroke-width="0.15">13</text>
<text x="333.15" y="113.77" fill="#111" stroke="#111" stroke-width="0.15">35</text>
<text x="347.18" y="113.77" fill="#111" stroke="#111" stroke-width="0.15">10</text>
<text x="361.22" y="113.77" fill="#111" stroke="#111" stroke-width="0.15">46</text>
<text x="375.26" y="113.77" fill="#111" stroke="#111" stroke-width="0.15">35</text>
<text x="389.30" y="113.77" fill="#111" stroke="#111" stroke-width="0.15">57</text>
<text x="403.33" y="113.77" fill="#111" stroke="#111" stroke-width="0.15">15</text>
<text x="417.37" y="113.77" fill="#111" stroke="#111" stroke-width="0.15">49</text>
<text x="431.41" y="113.77" fill="#111" stroke="#111" stroke-width="0.15">23</text>
<text x="445.44" y="113.77" fill="#111" stroke="#111" stroke-width="0.15">9</text>
<text x="459.48" y="113.77" fill="#111" stroke="#111" stroke-width="0.15">26</text>
<text x="475.52" y="113.77" fill="#111" stroke="#111" stroke-width="0.15">33</text>
<text x="94.52" y="127.77" fill="#111" stroke="#111" stroke-width="0.15">14</text>
<text x="108.56" y="127.77" fill="#111" stroke="#111" stroke-width="0.15">6</text>
<text x="122.59" y="127.77" fill="#111" stroke="#111" stroke-width="0.15">27</text>
<text x="136.63" y="127.77" fill="#111" stroke="#111" stroke-width="0.15">24</text>
<text x="150.67" y="127.77" fill="#111" stroke="#111" stroke-width="0.15">25</text>
<text x="164.70" y="127.77" fill="#111" stroke="#111" stroke-width="0.15">16</text>
<text x="178.74" y="127.77" fill="#111" stroke="#111" stroke-width="0.15">40</text>
<text x="192.78" y="127.77" fill="#111" stroke="#111" stroke-width="0.15">68</text>
<text x="206.81" y="127.77" fill="#111" stroke="#111" stroke-width="0.15">13</text>
<text x="220.85" y="127.77" fill="#111" stroke="#111" stroke-width="0.15">56</text>
<text x="234.89" y="127.77" fill="#111" stroke="#111" stroke-width="0.15">28</text>
<text x="248.93" y="127.77" fill="#111" stroke="#111" stroke-width="0.15">62</text>
<text x="262.96" y="127.77" fill="#111" stroke="#111" stroke-width="0.15">17</text>
<text x="277.00" y="127.77" fill="#111" stroke="#111" stroke-width="0.15">60</text>
<text x="291.04" y="127.77" fill="#111" stroke="#111" stroke-width="0.15">21</text>
<text x="305.07" y="127.77" fill="#111" stroke="#111" stroke-width="0.15">16</text>
<text x="319.11" y="127.77" fill="#111" stroke="#111" stroke-width="0.15">10</text>
<text x="333.15" y="127.77" fill="#111" stroke="#111" stroke-width="0.15">31</text>
<text x="347.18" y="127.77" fill="#111" stroke="#111" stroke-width="0.15">8</text>
<text x="361.22" y="127.77" fill="#111" stroke="#111" stroke-width="0.15">33</text>
<text x="375.26" y="127.77" fill="#111" stroke="#111" stroke-width="0.15">28</text>
<text x="389.30" y="127.77" fill="#111" stroke="#111" stroke-width="0.15">52</text>
<text x="403.33" y="127.77" fill="#111" stroke="#111" stroke-width="0.15">7</text>
<text x="417.37" y="127.77" fill="#111" stroke="#111" stroke-width="0.15">50</text>
<text x="431.41" y="127.77" fill="#111" stroke="#111" stroke-width="0.15">19</text>
<text x="445.44" y="127.77" fill="#111" stroke="#111" stroke-width="0.15">6</text>
<text x="459.48" y="127.77" fill="#111" stroke="#111" stroke-width="0.15">22</text>
<text x="475.52" y="127.77" fill="#111" stroke="#111" stroke-width="0.15">28</text>
<text x="94.52" y="141.77" fill="#111" stroke="#111" stroke-width="0.15">0</text>
<text x="108.56" y="141.77" fill="#111" stroke="#111" stroke-width="0.15">0</text>
<text x="122.59" y="141.77" fill="#111" stroke="#111" stroke-width="0.15">0</text>
<text x="136.63" y="141.77" fill="#111" stroke="#111" stroke-width="0.15">0</text>
<text x="150.67" y="141.77" fill="#111" stroke="#111" stroke-width="0.15">0</text>
<text x="164.70" y="141.77" fill="#111" stroke="#111" stroke-width="0.15">0</text>
<text x="178.74" y="141.77" fill="#111" stroke="#111" stroke-width="0.15">0</text>
<text x="192.78" y="141.77" fill="#111" stroke="#111" stroke-width="0.15">0</text>
<text x="206.81" y="141.77" fill="#111" stroke="#111" stroke-width="0.15">0</text>
<text x="220.85" y="141.77" fill="#111" stroke="#111" stroke-width="0.15">0</text>
<text x="234.89" y="141.77" fill="#111" stroke="#111" stroke-width="0.15">0</text>
<text x="248.93" y="141.77" fill="#111" stroke="#111" stroke-width="0.15">0</text>
<text x="262.96" y="141.77" fill="#111" stroke="#111" stroke-width="0.15">0</text>
<text x="277.00" y="141.77" fill="#111" stroke="#111" stroke-width="0.15">0</text>
<text x="291.04" y="141.77" fill="#111" stroke="#111" stroke-width="0.15">0</text>
<text x="305.07" y="141.77" fill="#111" stroke="#111" stroke-width="0.15">0</text>
<text x="319.11" y="141.77" fill="#111" stroke="#111" stroke-width="0.15">0</text>
<text x="333.15" y="141.77" fill="#111" stroke="#111" stroke-width="0.15">0</text>
<text x="347.18" y="141.77" fill="#111" stroke="#111" stroke-width="0.15">0</text>
<text x="361.22" y="141.77" fill="#111" stroke="#111" stroke-width="0.15">0</text>
<text x="375.26" y="141.77" fill="#111" stroke="#111" stroke-width="0.15">0</text>
<text x="389.30" y="141.77" fill="#111" stroke="#111" stroke-width="0.15">0</text>
<text x="403.33" y="141.77" fill="#111" stroke="#111" stroke-width="0.15">0</text>
<text x="417.37" y="141.77" fill="#111" stroke="#111" stroke-width="0.15">0</text>
<text x="431.41" y="141.77" fill="#111" stroke="#111" stroke-width="0.15">0</text>
<text x="445.44" y="141.77" fill="#111" stroke="#111" stroke-width="0.15">0</text>
<text x="459.48" y="141.77" fill="#111" stroke="#111" stroke-width="0.15">0</text>
<text x="475.52" y="141.77" fill="#111" stroke="#111" stroke-width="0.15">0</text>
</g>
<g font-family="Liberation Sans, sans-serif" font-size="5.95" text-anchor="end" fill="#1a1a1a" stroke="#1a1a1a" stroke-width="0.18">
<text x="81.6" y="15.05">WT</text>
<text x="81.6" y="29.05">5ALA</text>
<text x="81.6" y="43.05">MDTCS</text>
<text x="81.6" y="57.05">MDTCS-5ALA</text>
<text x="81.6" y="71.05" textLength="34.3" lengthAdjust="spacingAndGlyphs">5ALA-1250A</text>
<text x="81.6" y="85.05" textLength="34.3" lengthAdjust="spacingAndGlyphs">5ALA-1252A</text>
<text x="81.6" y="99.05" textLength="34.3" lengthAdjust="spacingAndGlyphs">5ALA-1367A</text>
<text x="81.6" y="113.05" textLength="54.4" lengthAdjust="spacingAndGlyphs">5ALA-1250A-1252A</text>
<text x="81.6" y="127.05" textLength="74.4" lengthAdjust="spacingAndGlyphs">5ALA-1250A-1252A-1367A</text>
<text x="81.6" y="141.05">MOCK</text>
</g>
<g font-family="Liberation Sans, sans-serif" font-size="5.95" text-anchor="end" fill="#333">
<text transform="translate(96.66 152.8) rotate(-90)">rAD13.002</text>
<text transform="translate(110.70 152.8) rotate(-90)">rAD13.003</text>
<text transform="translate(124.73 152.8) rotate(-90)">rAD13.028</text>
<text transform="translate(138.77 152.8) rotate(-90)">rAD13.048</text>
<text transform="translate(152.81 152.8) rotate(-90)">rAD13.056</text>
<text transform="translate(166.85 152.8) rotate(-90)">rAD13.060</text>
<text transform="translate(180.88 152.8) rotate(-90)">rAD13.061</text>
<text transform="translate(194.92 152.8) rotate(-90)">rAD13.064</text>
<text transform="translate(208.96 152.8) rotate(-90)">rAD13.070</text>
<text transform="translate(222.99 152.8) rotate(-90)">rAD13.071</text>
<text transform="translate(237.03 152.8) rotate(-90)">rAD13.086</text>
<text transform="translate(251.07 152.8) rotate(-90)">rAD13.088</text>
<text transform="translate(265.10 152.8) rotate(-90)">rAD13.090</text>
<text transform="translate(279.14 152.8) rotate(-90)">rAD13.091</text>
<text transform="translate(293.18 152.8) rotate(-90)">LRB-04</text>
<text transform="translate(307.22 152.8) rotate(-90)">LRB-06</text>
<text transform="translate(321.25 152.8) rotate(-90)">LRB-07</text>
<text transform="translate(335.29 152.8) rotate(-90)">LRB-08</text>
<text transform="translate(349.33 152.8) rotate(-90)">LRB-11</text>
<text transform="translate(363.36 152.8) rotate(-90)">LRB-18</text>
<text transform="translate(377.40 152.8) rotate(-90)">LRB-19</text>
<text transform="translate(391.44 152.8) rotate(-90)">LRB-20</text>
<text transform="translate(405.47 152.8) rotate(-90)">LRB-31</text>
<text transform="translate(419.51 152.8) rotate(-90)">LRB-32</text>
<text transform="translate(433.55 152.8) rotate(-90)">LRB-35</text>
<text transform="translate(447.59 152.8) rotate(-90)">LRB-48</text>
<text transform="translate(461.62 152.8) rotate(-90)">LRB-50</text>
<text transform="translate(477.66 152.8) rotate(-90)">AVERAGE</text>
</g>
<path d="M84.5 13.50H87.50M84.5 27.50H87.50M84.5 41.50H87.50M84.5 55.50H87.50M84.5 69.50H87.50M84.5 83.50H87.50M84.5 97.50H87.50M84.5 111.50H87.50M84.5 125.50H87.50M84.5 139.50H87.50M94.50 146.50V149.8M108.50 146.50V149.8M122.50 146.50V149.8M136.50 146.50V149.8M150.50 146.50V149.8M164.50 146.50V149.8M178.50 146.50V149.8M192.50 146.50V149.8M206.50 146.50V149.8M220.50 146.50V149.8M234.50 146.50V149.8M248.50 146.50V149.8M262.50 146.50V149.8M276.50 146.50V149.8M291.50 146.50V149.8M305.50 146.50V149.8M319.50 146.50V149.8M333.50 146.50V149.8M347.50 146.50V149.8M361.50 146.50V149.8M375.50 146.50V149.8M389.50 146.50V149.8M403.50 146.50V149.8M417.50 146.50V149.8M431.50 146.50V149.8M445.50 146.50V149.8M459.50 146.50V149.8M475.50 146.50V149.8" stroke="#111" stroke-width="0.8" fill="none"/>
<defs><linearGradient id="cb" x1="0" y1="1" x2="0" y2="0"><stop offset="0" stop-color="rgb(0,255,0)"/><stop offset="0.5" stop-color="rgb(255,255,0)"/><stop offset="1" stop-color="rgb(240,0,10)"/></linearGradient></defs>
<rect x="488.7" y="21.4" width="10.2" height="110.1" fill="url(#cb)" stroke="#222" stroke-width="0.9"/>
<g font-family="Liberation Sans, sans-serif" font-size="6.2" fill="#1a1a1a" stroke="#1a1a1a" stroke-width="0.12">
<text x="503" y="133.60">0</text>
<text x="503" y="111.58">20</text>
<text x="503" y="89.56">40</text>
<text x="503" y="67.54">60</text>
<text x="503" y="45.52">80</text>
<text x="503" y="23.50">100</text>
</g>
<path d="M488.7 109.48h1.5M498.9 109.48h-1.5M488.7 87.46h1.5M498.9 87.46h-1.5M488.7 65.44h1.5M498.9 65.44h-1.5M488.7 43.42h1.5M498.9 43.42h-1.5" stroke="#222" stroke-width="0.8"/>
<g font-family="Liberation Sans, sans-serif" font-size="11" font-weight="bold" fill="#000" stroke="#000" stroke-width="0.35">
<text x="6.4" y="15.8">A</text>
<text x="6.6" y="207.3">B</text>
<text x="199.4" y="207.2">C</text>
<text x="388.6" y="207.2">D</text>
</g>
<path d="M43.5 260.7V353.5H184" stroke="#000" stroke-width="1" fill="none"/>
<text x="37.70" y="355.30" font-family="Liberation Sans, sans-serif" font-size="6.0" text-anchor="end" fill="#111" stroke="#222" stroke-width="0.12">0</text>
<text x="37.70" y="325.47" font-family="Liberation Sans, sans-serif" font-size="6.0" text-anchor="end" fill="#111" stroke="#222" stroke-width="0.12">50</text>
<text x="37.70" y="295.63" font-family="Liberation Sans, sans-serif" font-size="6.0" text-anchor="end" fill="#111" stroke="#222" stroke-width="0.12">100</text>
<text x="37.70" y="265.80" font-family="Liberation Sans, sans-serif" font-size="6.0" text-anchor="end" fill="#111" stroke="#222" stroke-width="0.12">150</text>
<path d="M40.7 353.20H43.5M40.7 323.37H43.5M40.7 293.53H43.5M40.7 263.69H43.5M52.50 353.5v2.6M66.50 353.5v2.6M79.50 353.5v2.6M93.50 353.5v2.6M107.50 353.5v2.6M120.50 353.5v2.6M134.50 353.5v2.6M147.50 353.5v2.6M161.50 353.5v2.6M175.50 353.5v2.6" stroke="#000" stroke-width="0.8" fill="none"/>
<text transform="translate(21.30 308.50) rotate(-90)" font-family="Liberation Sans, sans-serif" font-size="6.0" text-anchor="middle" fill="#111" stroke="#222" stroke-width="0.12">Binding percentage (%)</text>
<text transform="translate(52.50 362.50) rotate(-45)" font-family="Liberation Sans, sans-serif" font-size="6.1" text-anchor="end" fill="#111" stroke="#222" stroke-width="0.12">WT</text>
<text transform="translate(66.10 362.50) rotate(-45)" font-family="Liberation Sans, sans-serif" font-size="6.1" text-anchor="end" fill="#111" stroke="#222" stroke-width="0.12">5ALA</text>
<text transform="translate(79.70 362.50) rotate(-45)" font-family="Liberation Sans, sans-serif" font-size="6.1" text-anchor="end" fill="#111" stroke="#222" stroke-width="0.12">MDTCS</text>
<text transform="translate(93.30 362.50) rotate(-45)" font-family="Liberation Sans, sans-serif" font-size="6.1" text-anchor="end" fill="#111" stroke="#222" stroke-width="0.12">MDTCS-5ALA</text>
<text transform="translate(106.90 362.50) rotate(-45)" font-family="Liberation Sans, sans-serif" font-size="6.1" text-anchor="end" fill="#111" stroke="#222" stroke-width="0.12">5ALA-1250A</text>
<text transform="translate(120.50 362.50) rotate(-45)" font-family="Liberation Sans, sans-serif" font-size="6.1" text-anchor="end" fill="#111" stroke="#222" stroke-width="0.12">5ALA-1252A</text>
<text transform="translate(134.10 362.50) rotate(-45)" font-family="Liberation Sans, sans-serif" font-size="6.1" text-anchor="end" fill="#111" stroke="#222" stroke-width="0.12">5ALA-1367A</text>
<text transform="translate(147.70 362.50) rotate(-45)" font-family="Liberation Sans, sans-serif" font-size="6.1" text-anchor="end" fill="#111" stroke="#222" stroke-width="0.12">5ALA-1250A-1252A</text>
<text transform="translate(161.30 362.50) rotate(-45)" font-family="Liberation Sans, sans-serif" font-size="6.1" text-anchor="end" fill="#111" stroke="#222" stroke-width="0.12">5ALA-1250A-1252A-1367A</text>
<text transform="translate(174.90 362.50) rotate(-45)" font-family="Liberation Sans, sans-serif" font-size="6.1" text-anchor="end" fill="#111" stroke="#222" stroke-width="0.12">MOCK</text>
<path d="M48.10 293.53h9" stroke="#1f4d7c" stroke-width="2.2"/>
<path d="M170.50 353.20h9" stroke="#1f4d7c" stroke-width="2.2"/>
<g fill="#94b0cf" stroke="#3e6a99" stroke-width="0.55"><circle cx="66.20" cy="291.74" r="0.85"/><circle cx="66.20" cy="298.30" r="0.85"/><circle cx="66.20" cy="301.88" r="0.85"/><circle cx="68.70" cy="302.48" r="0.85"/><circle cx="64.20" cy="303.08" r="0.85"/><circle cx="70.70" cy="303.67" r="0.85"/><circle cx="66.20" cy="305.46" r="0.85"/><circle cx="66.20" cy="310.83" r="0.85"/><circle cx="67.70" cy="312.62" r="0.85"/><circle cx="65.20" cy="313.22" r="0.85"/><circle cx="66.20" cy="316.20" r="0.85"/><circle cx="68.70" cy="316.80" r="0.85"/><circle cx="64.70" cy="317.99" r="0.85"/><circle cx="66.20" cy="319.78" r="0.85"/><circle cx="67.70" cy="321.57" r="0.85"/><circle cx="64.70" cy="321.57" r="0.85"/><circle cx="69.70" cy="322.77" r="0.85"/><circle cx="66.20" cy="323.37" r="0.85"/><circle cx="68.20" cy="324.56" r="0.85"/><circle cx="64.20" cy="324.56" r="0.85"/><circle cx="70.70" cy="325.16" r="0.85"/><circle cx="66.20" cy="328.74" r="0.85"/><circle cx="68.70" cy="329.33" r="0.85"/><circle cx="66.20" cy="334.11" r="0.85"/><circle cx="68.20" cy="335.30" r="0.85"/><circle cx="66.20" cy="337.69" r="0.85"/><circle cx="68.70" cy="338.28" r="0.85"/><circle cx="79.80" cy="281.60" r="0.85"/><circle cx="79.80" cy="294.72" r="0.85"/><circle cx="79.80" cy="301.29" r="0.85"/><circle cx="79.80" cy="306.66" r="0.85"/><circle cx="82.30" cy="307.25" r="0.85"/><circle cx="77.80" cy="307.85" r="0.85"/><circle cx="75.30" cy="307.85" r="0.85"/><circle cx="84.30" cy="308.45" r="0.85"/><circle cx="79.80" cy="310.24" r="0.85"/><circle cx="79.80" cy="313.22" r="0.85"/><circle cx="82.30" cy="313.82" r="0.85"/><circle cx="79.80" cy="316.80" r="0.85"/><circle cx="79.80" cy="320.38" r="0.85"/><circle cx="82.30" cy="320.38" r="0.85"/><circle cx="79.80" cy="326.95" r="0.85"/><circle cx="82.30" cy="327.54" r="0.85"/><circle cx="78.30" cy="328.74" r="0.85"/><circle cx="80.80" cy="329.33" r="0.85"/><circle cx="83.80" cy="329.33" r="0.85"/><circle cx="76.30" cy="329.93" r="0.85"/><circle cx="79.80" cy="330.53" r="0.85"/><circle cx="79.80" cy="335.90" r="0.85"/><circle cx="82.30" cy="336.49" r="0.85"/><circle cx="79.80" cy="338.88" r="0.85"/><circle cx="79.80" cy="353.20" r="0.85"/><circle cx="82.30" cy="353.20" r="0.85"/><circle cx="77.30" cy="353.20" r="0.85"/><circle cx="93.40" cy="338.28" r="0.85"/><circle cx="93.40" cy="350.22" r="0.85"/><circle cx="95.40" cy="351.41" r="0.85"/><circle cx="91.40" cy="351.41" r="0.85"/><circle cx="97.90" cy="351.41" r="0.85"/><circle cx="88.90" cy="352.01" r="0.85"/><circle cx="94.90" cy="352.01" r="0.85"/><circle cx="93.40" cy="352.60" r="0.85"/><circle cx="97.40" cy="352.60" r="0.85"/><circle cx="89.40" cy="352.60" r="0.85"/><circle cx="93.40" cy="352.60" r="0.85"/><circle cx="92.90" cy="353.20" r="0.85"/><circle cx="96.90" cy="353.20" r="0.85"/><circle cx="89.90" cy="353.20" r="0.85"/><circle cx="92.90" cy="353.20" r="0.85"/><circle cx="96.90" cy="353.20" r="0.85"/><circle cx="89.90" cy="353.20" r="0.85"/><circle cx="92.90" cy="353.20" r="0.85"/><circle cx="96.90" cy="353.20" r="0.85"/><circle cx="89.90" cy="353.20" r="0.85"/><circle cx="92.90" cy="353.20" r="0.85"/><circle cx="96.90" cy="353.20" r="0.85"/><circle cx="89.90" cy="353.20" r="0.85"/><circle cx="92.90" cy="353.20" r="0.85"/><circle cx="96.90" cy="353.20" r="0.85"/><circle cx="89.90" cy="353.20" r="0.85"/><circle cx="92.90" cy="353.20" r="0.85"/><circle cx="107.00" cy="300.69" r="0.85"/><circle cx="107.00" cy="304.87" r="0.85"/><circle cx="107.00" cy="307.85" r="0.85"/><circle cx="107.00" cy="314.41" r="0.85"/><circle cx="109.50" cy="314.41" r="0.85"/><circle cx="107.00" cy="317.40" r="0.85"/><circle cx="107.00" cy="319.78" r="0.85"/><circle cx="107.00" cy="322.17" r="0.85"/><circle cx="109.00" cy="323.37" r="0.85"/><circle cx="107.00" cy="324.56" r="0.85"/><circle cx="107.00" cy="328.14" r="0.85"/><circle cx="107.00" cy="331.72" r="0.85"/><circle cx="109.50" cy="331.72" r="0.85"/><circle cx="104.50" cy="332.32" r="0.85"/><circle cx="107.00" cy="332.32" r="0.85"/><circle cx="108.50" cy="334.11" r="0.85"/><circle cx="106.00" cy="334.70" r="0.85"/><circle cx="107.00" cy="337.69" r="0.85"/><circle cx="107.00" cy="340.07" r="0.85"/><circle cx="109.50" cy="340.07" r="0.85"/><circle cx="104.50" cy="340.67" r="0.85"/><circle cx="111.50" cy="341.27" r="0.85"/><circle cx="107.00" cy="342.46" r="0.85"/><circle cx="109.00" cy="343.65" r="0.85"/><circle cx="107.00" cy="345.44" r="0.85"/><circle cx="104.50" cy="345.44" r="0.85"/><circle cx="109.50" cy="346.04" r="0.85"/><circle cx="120.60" cy="300.69" r="0.85"/><circle cx="120.60" cy="308.45" r="0.85"/><circle cx="120.60" cy="310.83" r="0.85"/><circle cx="123.10" cy="311.43" r="0.85"/><circle cx="120.60" cy="314.41" r="0.85"/><circle cx="123.10" cy="315.01" r="0.85"/><circle cx="120.60" cy="317.99" r="0.85"/><circle cx="120.60" cy="320.98" r="0.85"/><circle cx="120.60" cy="323.37" r="0.85"/><circle cx="123.10" cy="323.96" r="0.85"/><circle cx="120.60" cy="327.54" r="0.85"/><circle cx="122.10" cy="329.33" r="0.85"/><circle cx="119.10" cy="329.33" r="0.85"/><circle cx="120.60" cy="331.12" r="0.85"/><circle cx="123.10" cy="331.72" r="0.85"/><circle cx="119.10" cy="332.91" r="0.85"/><circle cx="121.60" cy="333.51" r="0.85"/><circle cx="123.60" cy="334.70" r="0.85"/><circle cx="117.60" cy="334.70" r="0.85"/><circle cx="120.60" cy="336.49" r="0.85"/><circle cx="120.60" cy="339.48" r="0.85"/><circle cx="122.60" cy="340.67" r="0.85"/><circle cx="118.60" cy="340.67" r="0.85"/><circle cx="120.60" cy="343.65" r="0.85"/><circle cx="123.10" cy="343.65" r="0.85"/><circle cx="118.10" cy="343.65" r="0.85"/><circle cx="120.60" cy="346.04" r="0.85"/><circle cx="134.20" cy="295.32" r="0.85"/><circle cx="134.20" cy="306.66" r="0.85"/><circle cx="136.70" cy="307.25" r="0.85"/><circle cx="134.20" cy="309.64" r="0.85"/><circle cx="134.20" cy="313.22" r="0.85"/><circle cx="136.70" cy="313.22" r="0.85"/><circle cx="132.20" cy="314.41" r="0.85"/><circle cx="138.20" cy="315.01" r="0.85"/><circle cx="134.20" cy="316.80" r="0.85"/><circle cx="135.70" cy="318.59" r="0.85"/><circle cx="132.70" cy="318.59" r="0.85"/><circle cx="134.20" cy="322.77" r="0.85"/><circle cx="136.70" cy="323.37" r="0.85"/><circle cx="134.20" cy="326.95" r="0.85"/><circle cx="136.70" cy="326.95" r="0.85"/><circle cx="131.70" cy="327.54" r="0.85"/><circle cx="138.70" cy="328.14" r="0.85"/><circle cx="134.20" cy="328.14" r="0.85"/><circle cx="129.70" cy="328.74" r="0.85"/><circle cx="134.20" cy="331.72" r="0.85"/><circle cx="136.20" cy="332.91" r="0.85"/><circle cx="132.20" cy="332.91" r="0.85"/><circle cx="134.20" cy="337.69" r="0.85"/><circle cx="135.70" cy="339.48" r="0.85"/><circle cx="132.70" cy="339.48" r="0.85"/><circle cx="138.20" cy="340.07" r="0.85"/><circle cx="130.70" cy="340.67" r="0.85"/><circle cx="147.80" cy="307.85" r="0.85"/><circle cx="147.80" cy="310.83" r="0.85"/><circle cx="147.80" cy="315.01" r="0.85"/><circle cx="149.30" cy="316.80" r="0.85"/><circle cx="147.80" cy="319.19" r="0.85"/><circle cx="147.80" cy="323.96" r="0.85"/><circle cx="149.30" cy="325.75" r="0.85"/><circle cx="146.80" cy="326.35" r="0.85"/><circle cx="147.80" cy="332.32" r="0.85"/><circle cx="150.30" cy="332.32" r="0.85"/><circle cx="145.30" cy="332.91" r="0.85"/><circle cx="147.80" cy="334.70" r="0.85"/><circle cx="149.80" cy="335.90" r="0.85"/><circle cx="146.30" cy="336.49" r="0.85"/><circle cx="148.30" cy="337.69" r="0.85"/><circle cx="151.30" cy="337.69" r="0.85"/><circle cx="146.30" cy="338.88" r="0.85"/><circle cx="149.80" cy="339.48" r="0.85"/><circle cx="143.80" cy="339.48" r="0.85"/><circle cx="147.80" cy="341.86" r="0.85"/><circle cx="150.30" cy="342.46" r="0.85"/><circle cx="145.80" cy="343.06" r="0.85"/><circle cx="147.80" cy="344.25" r="0.85"/><circle cx="149.80" cy="345.44" r="0.85"/><circle cx="147.80" cy="347.23" r="0.85"/><circle cx="150.30" cy="347.83" r="0.85"/><circle cx="145.80" cy="348.43" r="0.85"/><circle cx="161.40" cy="312.62" r="0.85"/><circle cx="161.40" cy="316.20" r="0.85"/><circle cx="163.40" cy="317.40" r="0.85"/><circle cx="161.40" cy="319.78" r="0.85"/><circle cx="161.40" cy="322.17" r="0.85"/><circle cx="163.40" cy="323.37" r="0.85"/><circle cx="161.40" cy="329.33" r="0.85"/><circle cx="161.40" cy="333.51" r="0.85"/><circle cx="163.40" cy="334.70" r="0.85"/><circle cx="161.40" cy="336.49" r="0.85"/><circle cx="158.90" cy="336.49" r="0.85"/><circle cx="163.90" cy="337.09" r="0.85"/><circle cx="157.40" cy="338.28" r="0.85"/><circle cx="161.40" cy="338.88" r="0.85"/><circle cx="163.40" cy="340.07" r="0.85"/><circle cx="159.90" cy="340.67" r="0.85"/><circle cx="161.90" cy="341.86" r="0.85"/><circle cx="159.90" cy="343.06" r="0.85"/><circle cx="163.40" cy="343.65" r="0.85"/><circle cx="157.40" cy="343.65" r="0.85"/><circle cx="161.40" cy="344.85" r="0.85"/><circle cx="158.90" cy="345.44" r="0.85"/><circle cx="161.40" cy="347.23" r="0.85"/><circle cx="163.40" cy="348.43" r="0.85"/><circle cx="159.90" cy="349.02" r="0.85"/><circle cx="165.40" cy="349.62" r="0.85"/><circle cx="157.40" cy="349.62" r="0.85"/></g>
<path d="M63.70 305.28h5M66.20 305.28V330.36M63.70 330.36h5" stroke="#1f4a7a" stroke-width="0.65" fill="none"/>
<path d="M62.40 317.82h7.6" stroke="#1f4a7a" stroke-width="0.95"/>
<path d="M77.30 303.96h5M79.80 303.96V339.28M77.30 339.28h5" stroke="#1f4a7a" stroke-width="0.65" fill="none"/>
<path d="M76.00 321.62h7.6" stroke="#1f4a7a" stroke-width="0.95"/>
<path d="M90.90 349.28h5M93.40 349.28V353.20M90.90 353.20h5" stroke="#1f4a7a" stroke-width="0.65" fill="none"/>
<path d="M89.60 352.16h7.6" stroke="#1f4a7a" stroke-width="0.95"/>
<path d="M104.50 316.38h5M107.00 316.38V342.68M104.50 342.68h5" stroke="#1f4a7a" stroke-width="0.65" fill="none"/>
<path d="M103.20 329.53h7.6" stroke="#1f4a7a" stroke-width="0.95"/>
<path d="M118.10 315.99h5M120.60 315.99V340.77M118.10 340.77h5" stroke="#1f4a7a" stroke-width="0.65" fill="none"/>
<path d="M116.80 328.38h7.6" stroke="#1f4a7a" stroke-width="0.95"/>
<path d="M131.70 311.75h5M134.20 311.75V335.38M131.70 335.38h5" stroke="#1f4a7a" stroke-width="0.65" fill="none"/>
<path d="M130.40 323.56h7.6" stroke="#1f4a7a" stroke-width="0.95"/>
<path d="M145.30 321.93h5M147.80 321.93V345.04M145.30 345.04h5" stroke="#1f4a7a" stroke-width="0.65" fill="none"/>
<path d="M144.00 333.49h7.6" stroke="#1f4a7a" stroke-width="0.95"/>
<path d="M158.90 325.35h5M161.40 325.35V347.50M158.90 347.50h5" stroke="#1f4a7a" stroke-width="0.65" fill="none"/>
<path d="M157.60 336.43h7.6" stroke="#1f4a7a" stroke-width="0.95"/>
<path d="M66.2 228.30V221.00H161.70V304.60" stroke="#333" stroke-width="1.0" fill="none"/>
<text x="113.95" y="220.80" font-family="Liberation Sans, sans-serif" font-size="6.2" text-anchor="middle" fill="#333" stroke="#333" stroke-width="0.15">****</text>
<path d="M66.2 240.80V233.50H147.80V300.00" stroke="#333" stroke-width="1.0" fill="none"/>
<text x="107.00" y="233.30" font-family="Liberation Sans, sans-serif" font-size="6.2" text-anchor="middle" fill="#333" stroke="#333" stroke-width="0.15">****</text>
<path d="M66.2 254.00V246.70H134.30V287.70" stroke="#333" stroke-width="1.0" fill="none"/>
<text x="100.25" y="246.50" font-family="Liberation Sans, sans-serif" font-size="6.2" text-anchor="middle" fill="#333" stroke="#333" stroke-width="0.15">***</text>
<path d="M66.2 266.70V259.40H120.70V293.00" stroke="#333" stroke-width="1.0" fill="none"/>
<text x="93.45" y="259.20" font-family="Liberation Sans, sans-serif" font-size="6.2" text-anchor="middle" fill="#333" stroke="#333" stroke-width="0.15">****</text>
<path d="M66.2 283.20V275.90H107.00V293.00" stroke="#333" stroke-width="1.0" fill="none"/>
<text x="86.60" y="275.70" font-family="Liberation Sans, sans-serif" font-size="6.2" text-anchor="middle" fill="#333" stroke="#333" stroke-width="0.15">****</text>
<path d="M232.5 210.5V353.5H373" stroke="#000" stroke-width="1" fill="none"/>
<text x="226.30" y="355.10" font-family="Liberation Sans, sans-serif" font-size="6.0" text-anchor="end" fill="#111" stroke="#222" stroke-width="0.12">0</text>
<text x="226.30" y="336.48" font-family="Liberation Sans, sans-serif" font-size="6.0" text-anchor="end" fill="#111" stroke="#222" stroke-width="0.12">10</text>
<text x="226.30" y="317.86" font-family="Liberation Sans, sans-serif" font-size="6.0" text-anchor="end" fill="#111" stroke="#222" stroke-width="0.12">20</text>
<text x="226.30" y="299.24" font-family="Liberation Sans, sans-serif" font-size="6.0" text-anchor="end" fill="#111" stroke="#222" stroke-width="0.12">30</text>
<text x="226.30" y="280.62" font-family="Liberation Sans, sans-serif" font-size="6.0" text-anchor="end" fill="#111" stroke="#222" stroke-width="0.12">40</text>
<text x="226.30" y="262.00" font-family="Liberation Sans, sans-serif" font-size="6.0" text-anchor="end" fill="#111" stroke="#222" stroke-width="0.12">50</text>
<text x="226.30" y="243.38" font-family="Liberation Sans, sans-serif" font-size="6.0" text-anchor="end" fill="#111" stroke="#222" stroke-width="0.12">60</text>
<text x="226.30" y="224.76" font-family="Liberation Sans, sans-serif" font-size="6.0" text-anchor="end" fill="#111" stroke="#222" stroke-width="0.12">70</text>
<path d="M229.4 353.00H232.5M229.4 334.38H232.5M229.4 315.76H232.5M229.4 297.14H232.5M229.4 278.52H232.5M229.4 259.90H232.5M229.4 241.28H232.5M229.4 222.66H232.5M230.9 343.69H232.5M230.9 325.07H232.5M230.9 306.45H232.5M230.9 287.83H232.5M230.9 269.21H232.5M230.9 250.59H232.5M230.9 231.97H232.5M230.9 213.35H232.5M249.50 353.5v2.6M276.50 353.5v2.6M302.50 353.5v2.6M328.50 353.5v2.6M355.50 353.5v2.6" stroke="#000" stroke-width="0.8" fill="none"/>
<text transform="translate(212.90 281.50) rotate(-90)" font-family="Liberation Sans, sans-serif" font-size="6.0" text-anchor="middle" fill="#111" stroke="#222" stroke-width="0.12">Binding reduction (%)</text>
<text transform="translate(249.80 362.50) rotate(-45)" font-family="Liberation Sans, sans-serif" font-size="6.1" text-anchor="end" fill="#111" stroke="#222" stroke-width="0.12">5ALA-1250A</text>
<text transform="translate(276.10 362.50) rotate(-45)" font-family="Liberation Sans, sans-serif" font-size="6.1" text-anchor="end" fill="#111" stroke="#222" stroke-width="0.12">5ALA-1252A</text>
<text transform="translate(302.40 362.50) rotate(-45)" font-family="Liberation Sans, sans-serif" font-size="6.1" text-anchor="end" fill="#111" stroke="#222" stroke-width="0.12">5ALA-1367A</text>
<text transform="translate(328.70 362.50) rotate(-45)" font-family="Liberation Sans, sans-serif" font-size="6.1" text-anchor="end" fill="#111" stroke="#222" stroke-width="0.12">5ALA-1250A-1252A</text>
<text transform="translate(355.00 362.50) rotate(-45)" font-family="Liberation Sans, sans-serif" font-size="6.1" text-anchor="end" fill="#111" stroke="#222" stroke-width="0.12">5ALA-1250A-1252A-1367A</text>
<g fill="#94b0cf" stroke="#3e6a99" stroke-width="0.55"><circle cx="249.90" cy="259.90" r="0.95"/><circle cx="249.90" cy="280.38" r="0.95"/><circle cx="249.90" cy="285.97" r="0.95"/><circle cx="252.65" cy="285.97" r="0.95"/><circle cx="249.90" cy="289.69" r="0.95"/><circle cx="249.90" cy="300.86" r="0.95"/><circle cx="251.55" cy="302.73" r="0.95"/><circle cx="249.90" cy="306.45" r="0.95"/><circle cx="249.90" cy="312.04" r="0.95"/><circle cx="251.55" cy="313.90" r="0.95"/><circle cx="248.25" cy="313.90" r="0.95"/><circle cx="249.90" cy="315.76" r="0.95"/><circle cx="249.90" cy="319.48" r="0.95"/><circle cx="249.90" cy="325.07" r="0.95"/><circle cx="252.65" cy="325.07" r="0.95"/><circle cx="248.25" cy="326.93" r="0.95"/><circle cx="254.30" cy="326.93" r="0.95"/><circle cx="249.90" cy="330.66" r="0.95"/><circle cx="252.65" cy="330.66" r="0.95"/><circle cx="247.15" cy="330.66" r="0.95"/><circle cx="254.30" cy="332.52" r="0.95"/><circle cx="245.50" cy="332.52" r="0.95"/><circle cx="249.90" cy="334.38" r="0.95"/><circle cx="249.90" cy="338.10" r="0.95"/><circle cx="251.55" cy="339.97" r="0.95"/><circle cx="248.25" cy="339.97" r="0.95"/><circle cx="249.90" cy="343.69" r="0.95"/><circle cx="276.20" cy="269.21" r="0.95"/><circle cx="276.20" cy="291.55" r="0.95"/><circle cx="278.95" cy="291.55" r="0.95"/><circle cx="274.55" cy="293.42" r="0.95"/><circle cx="276.20" cy="299.00" r="0.95"/><circle cx="277.85" cy="300.86" r="0.95"/><circle cx="276.20" cy="306.45" r="0.95"/><circle cx="278.95" cy="306.45" r="0.95"/><circle cx="276.20" cy="315.76" r="0.95"/><circle cx="277.85" cy="317.62" r="0.95"/><circle cx="276.20" cy="321.35" r="0.95"/><circle cx="277.85" cy="323.21" r="0.95"/><circle cx="276.20" cy="325.07" r="0.95"/><circle cx="273.45" cy="325.07" r="0.95"/><circle cx="277.85" cy="326.93" r="0.95"/><circle cx="280.05" cy="326.93" r="0.95"/><circle cx="276.20" cy="328.79" r="0.95"/><circle cx="277.85" cy="330.66" r="0.95"/><circle cx="276.20" cy="332.52" r="0.95"/><circle cx="277.85" cy="334.38" r="0.95"/><circle cx="274.55" cy="334.38" r="0.95"/><circle cx="276.20" cy="336.24" r="0.95"/><circle cx="277.85" cy="338.10" r="0.95"/><circle cx="276.20" cy="339.97" r="0.95"/><circle cx="273.45" cy="339.97" r="0.95"/><circle cx="277.85" cy="341.83" r="0.95"/><circle cx="276.20" cy="343.69" r="0.95"/><circle cx="302.50" cy="295.28" r="0.95"/><circle cx="302.50" cy="302.73" r="0.95"/><circle cx="302.50" cy="306.45" r="0.95"/><circle cx="302.50" cy="317.62" r="0.95"/><circle cx="302.50" cy="321.35" r="0.95"/><circle cx="305.25" cy="321.35" r="0.95"/><circle cx="302.50" cy="328.79" r="0.95"/><circle cx="304.15" cy="330.66" r="0.95"/><circle cx="300.85" cy="330.66" r="0.95"/><circle cx="306.35" cy="330.66" r="0.95"/><circle cx="302.50" cy="332.52" r="0.95"/><circle cx="304.15" cy="334.38" r="0.95"/><circle cx="302.50" cy="336.24" r="0.95"/><circle cx="302.50" cy="339.97" r="0.95"/><circle cx="304.15" cy="341.83" r="0.95"/><circle cx="300.85" cy="341.83" r="0.95"/><circle cx="306.35" cy="341.83" r="0.95"/><circle cx="298.65" cy="341.83" r="0.95"/><circle cx="309.10" cy="341.83" r="0.95"/><circle cx="302.50" cy="343.69" r="0.95"/><circle cx="304.15" cy="345.55" r="0.95"/><circle cx="300.85" cy="345.55" r="0.95"/><circle cx="306.35" cy="345.55" r="0.95"/><circle cx="298.65" cy="345.55" r="0.95"/><circle cx="302.50" cy="349.28" r="0.95"/><circle cx="328.80" cy="237.56" r="0.95"/><circle cx="328.80" cy="261.76" r="0.95"/><circle cx="328.80" cy="267.35" r="0.95"/><circle cx="331.55" cy="267.35" r="0.95"/><circle cx="328.80" cy="280.38" r="0.95"/><circle cx="331.55" cy="280.38" r="0.95"/><circle cx="328.80" cy="291.55" r="0.95"/><circle cx="328.80" cy="295.28" r="0.95"/><circle cx="328.80" cy="299.00" r="0.95"/><circle cx="330.45" cy="300.86" r="0.95"/><circle cx="328.80" cy="302.73" r="0.95"/><circle cx="326.05" cy="302.73" r="0.95"/><circle cx="328.80" cy="308.31" r="0.95"/><circle cx="331.55" cy="308.31" r="0.95"/><circle cx="327.15" cy="310.17" r="0.95"/><circle cx="328.80" cy="312.04" r="0.95"/><circle cx="330.45" cy="313.90" r="0.95"/><circle cx="328.80" cy="317.62" r="0.95"/><circle cx="328.80" cy="321.35" r="0.95"/><circle cx="331.55" cy="321.35" r="0.95"/><circle cx="327.15" cy="323.21" r="0.95"/><circle cx="328.80" cy="326.93" r="0.95"/><circle cx="330.45" cy="328.79" r="0.95"/><circle cx="328.80" cy="330.66" r="0.95"/><circle cx="330.45" cy="332.52" r="0.95"/><circle cx="328.80" cy="334.38" r="0.95"/><circle cx="326.05" cy="334.38" r="0.95"/><circle cx="355.10" cy="224.52" r="0.95"/><circle cx="355.10" cy="243.14" r="0.95"/><circle cx="355.10" cy="248.73" r="0.95"/><circle cx="355.10" cy="252.45" r="0.95"/><circle cx="355.10" cy="272.93" r="0.95"/><circle cx="356.75" cy="274.80" r="0.95"/><circle cx="355.10" cy="284.11" r="0.95"/><circle cx="355.10" cy="287.83" r="0.95"/><circle cx="356.75" cy="289.69" r="0.95"/><circle cx="355.10" cy="291.55" r="0.95"/><circle cx="356.75" cy="293.42" r="0.95"/><circle cx="353.45" cy="293.42" r="0.95"/><circle cx="358.95" cy="293.42" r="0.95"/><circle cx="355.10" cy="299.00" r="0.95"/><circle cx="356.75" cy="300.86" r="0.95"/><circle cx="355.10" cy="302.73" r="0.95"/><circle cx="355.10" cy="306.45" r="0.95"/><circle cx="355.10" cy="310.17" r="0.95"/><circle cx="356.75" cy="312.04" r="0.95"/><circle cx="353.45" cy="312.04" r="0.95"/><circle cx="355.10" cy="317.62" r="0.95"/><circle cx="356.75" cy="319.48" r="0.95"/><circle cx="355.10" cy="323.21" r="0.95"/><circle cx="357.85" cy="323.21" r="0.95"/><circle cx="353.45" cy="325.07" r="0.95"/><circle cx="351.25" cy="325.07" r="0.95"/><circle cx="355.10" cy="336.24" r="0.95"/></g>
<path d="M245.20 295.17h9.4M249.90 295.17V337.73M245.20 337.73h9.4" stroke="#1f4a7a" stroke-width="0.8" fill="none"/>
<path d="M240.90 316.45h18" stroke="#1f4a7a" stroke-width="0.9"/>
<path d="M271.50 300.97h9.4M276.20 300.97V339.10M271.50 339.10h9.4" stroke="#1f4a7a" stroke-width="0.8" fill="none"/>
<path d="M267.20 320.04h18" stroke="#1f4a7a" stroke-width="0.9"/>
<path d="M297.80 318.37h9.4M302.50 318.37V351.77M297.80 351.77h9.4" stroke="#1f4a7a" stroke-width="0.8" fill="none"/>
<path d="M293.50 335.07h18" stroke="#1f4a7a" stroke-width="0.9"/>
<path d="M324.10 279.16h9.4M328.80 279.16V329.05M324.10 329.05h9.4" stroke="#1f4a7a" stroke-width="0.8" fill="none"/>
<path d="M319.80 304.11h18" stroke="#1f4a7a" stroke-width="0.9"/>
<path d="M350.40 267.21h9.4M355.10 267.21V322.66M350.40 322.66h9.4" stroke="#1f4a7a" stroke-width="0.8" fill="none"/>
<path d="M346.10 294.93h18" stroke="#1f4a7a" stroke-width="0.9"/>
<path d="M425.5 210.2V353.5H496.2" stroke="#000" stroke-width="1" fill="none"/>
<text x="419.40" y="355.10" font-family="Liberation Sans, sans-serif" font-size="6.0" text-anchor="end" fill="#111" stroke="#222" stroke-width="0.12">0</text>
<text x="419.40" y="308.40" font-family="Liberation Sans, sans-serif" font-size="6.0" text-anchor="end" fill="#111" stroke="#222" stroke-width="0.12">50</text>
<text x="419.40" y="261.70" font-family="Liberation Sans, sans-serif" font-size="6.0" text-anchor="end" fill="#111" stroke="#222" stroke-width="0.12">100</text>
<text x="419.40" y="215.00" font-family="Liberation Sans, sans-serif" font-size="6.0" text-anchor="end" fill="#111" stroke="#222" stroke-width="0.12">150</text>
<path d="M422.4 353.00H425.5M422.4 306.30H425.5M422.4 259.60H425.5M422.4 212.90H425.5M439.50 353.5v2.6M460.50 353.5v2.6M481.50 353.5v2.6" stroke="#000" stroke-width="0.8" fill="none"/>
<text transform="translate(402.00 283.30) rotate(-90)" font-family="Liberation Sans, sans-serif" font-size="6.0" text-anchor="middle" fill="#111" stroke="#222" stroke-width="0.12">Binding percentage (%)</text>
<text transform="translate(439.30 362.50) rotate(-45)" font-family="Liberation Sans, sans-serif" font-size="6.1" text-anchor="end" fill="#111" stroke="#222" stroke-width="0.12">5ALA</text>
<text transform="translate(460.30 362.50) rotate(-45)" font-family="Liberation Sans, sans-serif" font-size="6.1" text-anchor="end" fill="#111" stroke="#222" stroke-width="0.12">5ALA-1250A-1252A</text>
<text transform="translate(481.30 362.50) rotate(-45)" font-family="Liberation Sans, sans-serif" font-size="6.1" text-anchor="end" fill="#111" stroke="#222" stroke-width="0.12">5ALA-1250A-1252A-1367A</text>
<path d="M439.4 324.98L460.4 335.25L481.4 339.92M439.4 329.65L460.4 345.53L481.4 347.40M439.4 300.70L460.4 321.24L481.4 327.78M439.4 290.42L460.4 326.85L481.4 330.58M439.4 303.50L460.4 325.91L481.4 329.65M439.4 308.17L460.4 330.58L481.4 338.06M439.4 295.09L460.4 310.97L481.4 315.64M439.4 256.80L460.4 282.02L481.4 289.49M439.4 315.64L460.4 337.12L481.4 340.86M439.4 286.69L460.4 296.03L481.4 300.70M439.4 306.30L460.4 324.05L481.4 326.85M439.4 278.28L460.4 293.22L481.4 295.09M439.4 323.11L460.4 336.19L481.4 337.12M439.4 275.48L460.4 286.69L481.4 296.96M439.4 303.50L460.4 328.72L481.4 333.39M439.4 273.61L460.4 331.52L481.4 338.06M439.4 328.72L460.4 340.86L481.4 343.66M439.4 289.49L460.4 320.31L481.4 324.05M439.4 314.71L460.4 343.66L481.4 345.53M439.4 267.07L460.4 310.04L481.4 322.18M439.4 274.54L460.4 320.31L481.4 326.85M439.4 272.68L460.4 299.76L481.4 304.43M439.4 296.03L460.4 338.99L481.4 346.46M439.4 297.89L460.4 307.23L481.4 306.30M439.4 305.37L460.4 331.52L481.4 335.25M439.4 308.17L460.4 344.59L481.4 347.40M439.4 309.10L460.4 328.72L481.4 332.45" stroke="#2d5f95" stroke-width="0.8" fill="none"/>
<g fill="#6e96c0" stroke="#2d6099" stroke-width="0.45"><circle cx="439.40" cy="324.98" r="0.95"/><circle cx="460.40" cy="335.25" r="0.95"/><circle cx="481.40" cy="339.92" r="0.95"/><circle cx="439.40" cy="329.65" r="0.95"/><circle cx="460.40" cy="345.53" r="0.95"/><circle cx="481.40" cy="347.40" r="0.95"/><circle cx="439.40" cy="300.70" r="0.95"/><circle cx="460.40" cy="321.24" r="0.95"/><circle cx="481.40" cy="327.78" r="0.95"/><circle cx="439.40" cy="290.42" r="0.95"/><circle cx="460.40" cy="326.85" r="0.95"/><circle cx="481.40" cy="330.58" r="0.95"/><circle cx="439.40" cy="303.50" r="0.95"/><circle cx="460.40" cy="325.91" r="0.95"/><circle cx="481.40" cy="329.65" r="0.95"/><circle cx="439.40" cy="308.17" r="0.95"/><circle cx="460.40" cy="330.58" r="0.95"/><circle cx="481.40" cy="338.06" r="0.95"/><circle cx="439.40" cy="295.09" r="0.95"/><circle cx="460.40" cy="310.97" r="0.95"/><circle cx="481.40" cy="315.64" r="0.95"/><circle cx="439.40" cy="256.80" r="0.95"/><circle cx="460.40" cy="282.02" r="0.95"/><circle cx="481.40" cy="289.49" r="0.95"/><circle cx="439.40" cy="315.64" r="0.95"/><circle cx="460.40" cy="337.12" r="0.95"/><circle cx="481.40" cy="340.86" r="0.95"/><circle cx="439.40" cy="286.69" r="0.95"/><circle cx="460.40" cy="296.03" r="0.95"/><circle cx="481.40" cy="300.70" r="0.95"/><circle cx="439.40" cy="306.30" r="0.95"/><circle cx="460.40" cy="324.05" r="0.95"/><circle cx="481.40" cy="326.85" r="0.95"/><circle cx="439.40" cy="278.28" r="0.95"/><circle cx="460.40" cy="293.22" r="0.95"/><circle cx="481.40" cy="295.09" r="0.95"/><circle cx="439.40" cy="323.11" r="0.95"/><circle cx="460.40" cy="336.19" r="0.95"/><circle cx="481.40" cy="337.12" r="0.95"/><circle cx="439.40" cy="275.48" r="0.95"/><circle cx="460.40" cy="286.69" r="0.95"/><circle cx="481.40" cy="296.96" r="0.95"/><circle cx="439.40" cy="303.50" r="0.95"/><circle cx="460.40" cy="328.72" r="0.95"/><circle cx="481.40" cy="333.39" r="0.95"/><circle cx="439.40" cy="273.61" r="0.95"/><circle cx="460.40" cy="331.52" r="0.95"/><circle cx="481.40" cy="338.06" r="0.95"/><circle cx="439.40" cy="328.72" r="0.95"/><circle cx="460.40" cy="340.86" r="0.95"/><circle cx="481.40" cy="343.66" r="0.95"/><circle cx="439.40" cy="289.49" r="0.95"/><circle cx="460.40" cy="320.31" r="0.95"/><circle cx="481.40" cy="324.05" r="0.95"/><circle cx="439.40" cy="314.71" r="0.95"/><circle cx="460.40" cy="343.66" r="0.95"/><circle cx="481.40" cy="345.53" r="0.95"/><circle cx="439.40" cy="267.07" r="0.95"/><circle cx="460.40" cy="310.04" r="0.95"/><circle cx="481.40" cy="322.18" r="0.95"/><circle cx="439.40" cy="274.54" r="0.95"/><circle cx="460.40" cy="320.31" r="0.95"/><circle cx="481.40" cy="326.85" r="0.95"/><circle cx="439.40" cy="272.68" r="0.95"/><circle cx="460.40" cy="299.76" r="0.95"/><circle cx="481.40" cy="304.43" r="0.95"/><circle cx="439.40" cy="296.03" r="0.95"/><circle cx="460.40" cy="338.99" r="0.95"/><circle cx="481.40" cy="346.46" r="0.95"/><circle cx="439.40" cy="297.89" r="0.95"/><circle cx="460.40" cy="307.23" r="0.95"/><circle cx="481.40" cy="306.30" r="0.95"/><circle cx="439.40" cy="305.37" r="0.95"/><circle cx="460.40" cy="331.52" r="0.95"/><circle cx="481.40" cy="335.25" r="0.95"/><circle cx="439.40" cy="308.17" r="0.95"/><circle cx="460.40" cy="344.59" r="0.95"/><circle cx="481.40" cy="347.40" r="0.95"/><circle cx="439.40" cy="309.10" r="0.95"/><circle cx="460.40" cy="328.72" r="0.95"/><circle cx="481.40" cy="332.45" r="0.95"/></g>
<path d="M439.5 233.1V228.1H481.3V284.4M439.5 251.2V246.6H460.8V277.8" stroke="#333" stroke-width="1.0" fill="none"/>
<text x="460.20" y="227.60" font-family="Liberation Sans, sans-serif" font-size="6.2" text-anchor="middle" fill="#333" stroke="#333" stroke-width="0.15">****</text>
<text x="449.90" y="246.20" font-family="Liberation Sans, sans-serif" font-size="6.2" text-anchor="middle" fill="#333" stroke="#333" stroke-width="0.15">****</text>
<rect x="0.5" y="0.5" width="519" height="422" fill="none" stroke="#3a3a3a" stroke-width="1"/>
</svg>
</body></html>
